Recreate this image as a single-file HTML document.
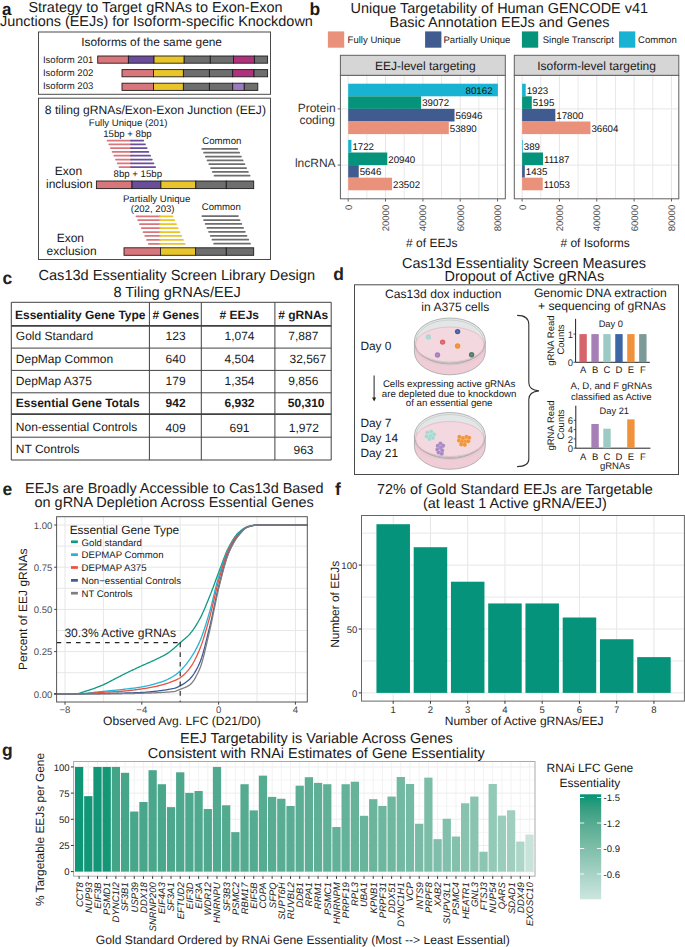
<!DOCTYPE html>
<html><head><meta charset="utf-8"><style>
html,body{margin:0;padding:0;background:#fff;}
svg{display:block;font-family:"Liberation Sans",sans-serif;text-rendering:geometricPrecision;}
</style></head><body>
<svg width="685" height="947" viewBox="0 0 685 947">
<rect width="685" height="947" fill="#fff"/>
<text x="2.00" y="14.60" style="font-size:17.0px;font-weight:bold;" fill="#1a1a1a" >a</text>
<text x="28.43" y="12.00" style="font-size:14.45px;" fill="#1a1a1a" >Strategy to Target gRNAs to Exon-Exon</text>
<text x="-0.09" y="26.20" style="font-size:14.45px;" fill="#1a1a1a" >Junctions (EEJs) for Isoform-specific Knockdown</text>
<rect x="38.50" y="32.00" width="232.00" height="62.30" fill="none" stroke="#4a4a4a" stroke-width="1" />
<rect x="38.50" y="98.20" width="232.00" height="161.30" fill="none" stroke="#4a4a4a" stroke-width="1" />
<text x="81.20" y="46.30" style="font-size:11.9px;" fill="#1a1a1a" >Isoforms of the same gene</text>
<rect x="97.70" y="56.00" width="30.70" height="7.20" fill="#d9767b" stroke="#1e1e1e" stroke-width="0.9" />
<rect x="128.40" y="56.00" width="25.60" height="7.20" fill="#6b4e9b" stroke="#1e1e1e" stroke-width="0.9" />
<rect x="154.00" y="56.00" width="30.20" height="7.20" fill="#e9c42a" stroke="#1e1e1e" stroke-width="0.9" />
<rect x="184.20" y="56.00" width="26.10" height="7.20" fill="#6e6e6e" stroke="#1e1e1e" stroke-width="0.9" />
<rect x="210.30" y="56.00" width="23.20" height="7.20" fill="#6e6e6e" stroke="#1e1e1e" stroke-width="0.9" />
<rect x="233.50" y="56.00" width="20.90" height="7.20" fill="#b0327c" stroke="#1e1e1e" stroke-width="0.9" />
<rect x="254.40" y="56.00" width="13.20" height="7.20" fill="#6e6e6e" stroke="#1e1e1e" stroke-width="0.9" />
<rect x="122.00" y="69.60" width="31.50" height="7.20" fill="#d9767b" stroke="#1e1e1e" stroke-width="0.9" />
<rect x="153.50" y="69.60" width="29.90" height="7.20" fill="#e9c42a" stroke="#1e1e1e" stroke-width="0.9" />
<rect x="183.40" y="69.60" width="26.00" height="7.20" fill="#6e6e6e" stroke="#1e1e1e" stroke-width="0.9" />
<rect x="209.40" y="69.60" width="23.30" height="7.20" fill="#6e6e6e" stroke="#1e1e1e" stroke-width="0.9" />
<rect x="232.70" y="69.60" width="21.30" height="7.20" fill="#b0327c" stroke="#1e1e1e" stroke-width="0.9" />
<rect x="254.00" y="69.60" width="13.60" height="7.20" fill="#6e6e6e" stroke="#1e1e1e" stroke-width="0.9" />
<rect x="122.00" y="83.20" width="31.50" height="7.20" fill="#d9767b" stroke="#1e1e1e" stroke-width="0.9" />
<rect x="153.50" y="83.20" width="29.90" height="7.20" fill="#e9c42a" stroke="#1e1e1e" stroke-width="0.9" />
<rect x="183.40" y="83.20" width="26.00" height="7.20" fill="#6e6e6e" stroke="#1e1e1e" stroke-width="0.9" />
<rect x="209.40" y="83.20" width="23.30" height="7.20" fill="#6e6e6e" stroke="#1e1e1e" stroke-width="0.9" />
<rect x="232.70" y="83.20" width="11.60" height="7.20" fill="#9b7bbd" stroke="#1e1e1e" stroke-width="0.9" />
<rect x="244.30" y="83.20" width="13.50" height="7.20" fill="#6e6e6e" stroke="#1e1e1e" stroke-width="0.9" />
<text x="42.90" y="62.60" style="font-size:9.55px;" fill="#1a1a1a" >Isoform 201</text>
<text x="42.90" y="76.00" style="font-size:9.55px;" fill="#1a1a1a" >Isoform 202</text>
<text x="42.90" y="89.30" style="font-size:9.55px;" fill="#1a1a1a" >Isoform 203</text>
<text x="44.80" y="113.50" style="font-size:12.1px;" fill="#1a1a1a" >8 tiling gRNAs/Exon-Exon Junction (EEJ)</text>
<text x="88.80" y="126.40" style="font-size:9.65px;" fill="#1a1a1a" >Fully Unique (201)</text>
<text x="103.20" y="137.10" style="font-size:9.65px;" fill="#1a1a1a" >15bp + 8bp</text>
<line x1="107.50" y1="140.50" x2="131.10" y2="140.50" stroke="#d9767b" stroke-width="1.75" stroke-linecap="round"/>
<line x1="131.10" y1="140.50" x2="143.30" y2="140.50" stroke="#6b4e9b" stroke-width="1.75" stroke-linecap="round"/>
<line x1="109.20" y1="144.30" x2="131.10" y2="144.30" stroke="#d9767b" stroke-width="1.75" stroke-linecap="round"/>
<line x1="131.10" y1="144.30" x2="145.00" y2="144.30" stroke="#6b4e9b" stroke-width="1.75" stroke-linecap="round"/>
<line x1="110.90" y1="148.10" x2="131.10" y2="148.10" stroke="#d9767b" stroke-width="1.75" stroke-linecap="round"/>
<line x1="131.10" y1="148.10" x2="146.70" y2="148.10" stroke="#6b4e9b" stroke-width="1.75" stroke-linecap="round"/>
<line x1="112.60" y1="151.90" x2="131.10" y2="151.90" stroke="#d9767b" stroke-width="1.75" stroke-linecap="round"/>
<line x1="131.10" y1="151.90" x2="148.40" y2="151.90" stroke="#6b4e9b" stroke-width="1.75" stroke-linecap="round"/>
<line x1="114.30" y1="155.70" x2="131.10" y2="155.70" stroke="#d9767b" stroke-width="1.75" stroke-linecap="round"/>
<line x1="131.10" y1="155.70" x2="150.10" y2="155.70" stroke="#6b4e9b" stroke-width="1.75" stroke-linecap="round"/>
<line x1="116.00" y1="159.50" x2="131.10" y2="159.50" stroke="#d9767b" stroke-width="1.75" stroke-linecap="round"/>
<line x1="131.10" y1="159.50" x2="151.80" y2="159.50" stroke="#6b4e9b" stroke-width="1.75" stroke-linecap="round"/>
<line x1="117.70" y1="163.30" x2="131.10" y2="163.30" stroke="#d9767b" stroke-width="1.75" stroke-linecap="round"/>
<line x1="131.10" y1="163.30" x2="153.50" y2="163.30" stroke="#6b4e9b" stroke-width="1.75" stroke-linecap="round"/>
<line x1="119.40" y1="167.10" x2="131.10" y2="167.10" stroke="#d9767b" stroke-width="1.75" stroke-linecap="round"/>
<line x1="131.10" y1="167.10" x2="155.20" y2="167.10" stroke="#6b4e9b" stroke-width="1.75" stroke-linecap="round"/>
<text x="113.60" y="177.00" style="font-size:9.65px;" fill="#1a1a1a" >8bp + 15bp</text>
<text x="202.30" y="143.80" style="font-size:9.65px;" fill="#1a1a1a" >Common</text>
<line x1="202.30" y1="148.90" x2="237.40" y2="148.90" stroke="#6e6e6e" stroke-width="1.75" stroke-linecap="round"/>
<line x1="204.05" y1="152.73" x2="239.15" y2="152.73" stroke="#6e6e6e" stroke-width="1.75" stroke-linecap="round"/>
<line x1="205.80" y1="156.56" x2="240.90" y2="156.56" stroke="#6e6e6e" stroke-width="1.75" stroke-linecap="round"/>
<line x1="207.55" y1="160.39" x2="242.65" y2="160.39" stroke="#6e6e6e" stroke-width="1.75" stroke-linecap="round"/>
<line x1="209.30" y1="164.22" x2="244.40" y2="164.22" stroke="#6e6e6e" stroke-width="1.75" stroke-linecap="round"/>
<line x1="211.05" y1="168.05" x2="246.15" y2="168.05" stroke="#6e6e6e" stroke-width="1.75" stroke-linecap="round"/>
<line x1="212.80" y1="171.88" x2="247.90" y2="171.88" stroke="#6e6e6e" stroke-width="1.75" stroke-linecap="round"/>
<line x1="214.55" y1="175.71" x2="249.65" y2="175.71" stroke="#6e6e6e" stroke-width="1.75" stroke-linecap="round"/>
<text x="54.80" y="175.40" style="font-size:12px;" fill="#1a1a1a" >Exon</text>
<text x="46.00" y="188.30" style="font-size:12px;" fill="#1a1a1a" >inclusion</text>
<rect x="96.40" y="181.00" width="35.60" height="7.60" fill="#d9767b" stroke="#1e1e1e" stroke-width="0.9" />
<rect x="132.00" y="181.00" width="28.90" height="7.60" fill="#6b4e9b" stroke="#1e1e1e" stroke-width="0.9" />
<rect x="160.90" y="181.00" width="34.90" height="7.60" fill="#e9c42a" stroke="#1e1e1e" stroke-width="0.9" />
<rect x="195.80" y="181.00" width="30.50" height="7.60" fill="#6e6e6e" stroke="#1e1e1e" stroke-width="0.9" />
<rect x="226.30" y="181.00" width="27.40" height="7.60" fill="#6e6e6e" stroke="#1e1e1e" stroke-width="0.9" />
<text x="122.90" y="201.50" style="font-size:9.65px;" fill="#1a1a1a" >Partially Unique</text>
<text x="130.70" y="212.00" style="font-size:9.65px;" fill="#1a1a1a" >(202, 203)</text>
<line x1="136.40" y1="216.30" x2="160.10" y2="216.30" stroke="#d9767b" stroke-width="1.75" stroke-linecap="round"/>
<line x1="160.10" y1="216.30" x2="172.50" y2="216.30" stroke="#e9c42a" stroke-width="1.75" stroke-linecap="round"/>
<line x1="138.17" y1="220.23" x2="160.10" y2="220.23" stroke="#d9767b" stroke-width="1.75" stroke-linecap="round"/>
<line x1="160.10" y1="220.23" x2="174.24" y2="220.23" stroke="#e9c42a" stroke-width="1.75" stroke-linecap="round"/>
<line x1="139.94" y1="224.16" x2="160.10" y2="224.16" stroke="#d9767b" stroke-width="1.75" stroke-linecap="round"/>
<line x1="160.10" y1="224.16" x2="175.98" y2="224.16" stroke="#e9c42a" stroke-width="1.75" stroke-linecap="round"/>
<line x1="141.71" y1="228.09" x2="160.10" y2="228.09" stroke="#d9767b" stroke-width="1.75" stroke-linecap="round"/>
<line x1="160.10" y1="228.09" x2="177.72" y2="228.09" stroke="#e9c42a" stroke-width="1.75" stroke-linecap="round"/>
<line x1="143.48" y1="232.02" x2="160.10" y2="232.02" stroke="#d9767b" stroke-width="1.75" stroke-linecap="round"/>
<line x1="160.10" y1="232.02" x2="179.46" y2="232.02" stroke="#e9c42a" stroke-width="1.75" stroke-linecap="round"/>
<line x1="145.25" y1="235.95" x2="160.10" y2="235.95" stroke="#d9767b" stroke-width="1.75" stroke-linecap="round"/>
<line x1="160.10" y1="235.95" x2="181.20" y2="235.95" stroke="#e9c42a" stroke-width="1.75" stroke-linecap="round"/>
<line x1="147.02" y1="239.88" x2="160.10" y2="239.88" stroke="#d9767b" stroke-width="1.75" stroke-linecap="round"/>
<line x1="160.10" y1="239.88" x2="182.94" y2="239.88" stroke="#e9c42a" stroke-width="1.75" stroke-linecap="round"/>
<line x1="148.79" y1="243.81" x2="160.10" y2="243.81" stroke="#d9767b" stroke-width="1.75" stroke-linecap="round"/>
<line x1="160.10" y1="243.81" x2="184.68" y2="243.81" stroke="#e9c42a" stroke-width="1.75" stroke-linecap="round"/>
<text x="201.70" y="210.00" style="font-size:9.65px;" fill="#1a1a1a" >Common</text>
<line x1="202.30" y1="216.10" x2="237.90" y2="216.10" stroke="#6e6e6e" stroke-width="1.75" stroke-linecap="round"/>
<line x1="203.99" y1="220.04" x2="239.63" y2="220.04" stroke="#6e6e6e" stroke-width="1.75" stroke-linecap="round"/>
<line x1="205.68" y1="223.98" x2="241.36" y2="223.98" stroke="#6e6e6e" stroke-width="1.75" stroke-linecap="round"/>
<line x1="207.37" y1="227.92" x2="243.09" y2="227.92" stroke="#6e6e6e" stroke-width="1.75" stroke-linecap="round"/>
<line x1="209.06" y1="231.86" x2="244.82" y2="231.86" stroke="#6e6e6e" stroke-width="1.75" stroke-linecap="round"/>
<line x1="210.75" y1="235.80" x2="246.55" y2="235.80" stroke="#6e6e6e" stroke-width="1.75" stroke-linecap="round"/>
<line x1="212.44" y1="239.74" x2="248.28" y2="239.74" stroke="#6e6e6e" stroke-width="1.75" stroke-linecap="round"/>
<line x1="214.13" y1="243.68" x2="250.01" y2="243.68" stroke="#6e6e6e" stroke-width="1.75" stroke-linecap="round"/>
<text x="56.70" y="241.80" style="font-size:12px;" fill="#1a1a1a" >Exon</text>
<text x="46.60" y="255.20" style="font-size:12px;" fill="#1a1a1a" >exclusion</text>
<rect x="124.00" y="247.80" width="36.50" height="7.50" fill="#d9767b" stroke="#1e1e1e" stroke-width="0.9" />
<rect x="160.50" y="247.80" width="35.10" height="7.50" fill="#e9c42a" stroke="#1e1e1e" stroke-width="0.9" />
<rect x="195.60" y="247.80" width="30.70" height="7.50" fill="#6e6e6e" stroke="#1e1e1e" stroke-width="0.9" />
<rect x="226.30" y="247.80" width="27.40" height="7.50" fill="#6e6e6e" stroke="#1e1e1e" stroke-width="0.9" />
<text x="309.60" y="14.60" style="font-size:17.5px;font-weight:bold;" fill="#1a1a1a" >b</text>
<text x="350.55" y="13.00" style="font-size:14.45px;" fill="#1a1a1a" >Unique Targetability of Human GENCODE v41</text>
<text x="389.55" y="27.40" style="font-size:14.45px;" fill="#1a1a1a" >Basic Annotation EEJs and Genes</text>
<rect x="327.90" y="31.40" width="16.30" height="16.30" fill="#ea917b" />
<text x="347.60" y="43.20" style="font-size:9.55px;" fill="#1a1a1a" >Fully Unique</text>
<rect x="425.10" y="31.40" width="16.30" height="16.30" fill="#3f5b8f" />
<text x="443.50" y="43.20" style="font-size:9.55px;" fill="#1a1a1a" >Partially Unique</text>
<rect x="521.90" y="31.40" width="16.30" height="16.30" fill="#05937b" />
<text x="542.70" y="43.20" style="font-size:9.55px;" fill="#1a1a1a" >Single Transcript</text>
<rect x="619.00" y="31.40" width="16.30" height="16.30" fill="#18b2d2" />
<text x="638.00" y="43.20" style="font-size:9.55px;" fill="#1a1a1a" >Common</text>
<line x1="366.87" y1="75.30" x2="366.87" y2="198.80" stroke="#e8e8e8" stroke-width="1.0" />
<line x1="404.21" y1="75.30" x2="404.21" y2="198.80" stroke="#e8e8e8" stroke-width="1.0" />
<line x1="441.55" y1="75.30" x2="441.55" y2="198.80" stroke="#e8e8e8" stroke-width="1.0" />
<line x1="478.89" y1="75.30" x2="478.89" y2="198.80" stroke="#e8e8e8" stroke-width="1.0" />
<line x1="348.20" y1="75.30" x2="348.20" y2="198.80" stroke="#e6e6e6" stroke-width="1.0" />
<line x1="385.54" y1="75.30" x2="385.54" y2="198.80" stroke="#e6e6e6" stroke-width="1.0" />
<line x1="422.88" y1="75.30" x2="422.88" y2="198.80" stroke="#e6e6e6" stroke-width="1.0" />
<line x1="460.22" y1="75.30" x2="460.22" y2="198.80" stroke="#e6e6e6" stroke-width="1.0" />
<line x1="497.56" y1="75.30" x2="497.56" y2="198.80" stroke="#e6e6e6" stroke-width="1.0" />
<line x1="340.40" y1="108.90" x2="505.30" y2="108.90" stroke="#e6e6e6" stroke-width="1.0" />
<line x1="340.40" y1="165.10" x2="505.30" y2="165.10" stroke="#e6e6e6" stroke-width="1.0" />
<rect x="348.20" y="83.70" width="149.66" height="12.60" fill="#18b2d2" />
<text x="465.59" y="93.85" style="font-size:9.7px;" fill="#111" >80162</text>
<rect x="348.20" y="96.30" width="72.95" height="12.60" fill="#05937b" />
<text x="422.15" y="106.45" style="font-size:9.7px;" fill="#111" >39072</text>
<rect x="348.20" y="108.90" width="106.32" height="12.60" fill="#3f5b8f" />
<text x="455.52" y="119.05" style="font-size:9.7px;" fill="#111" >56946</text>
<rect x="348.20" y="121.50" width="100.61" height="12.60" fill="#ea917b" />
<text x="449.81" y="131.65" style="font-size:9.7px;" fill="#111" >53890</text>
<rect x="348.20" y="139.90" width="3.21" height="12.60" fill="#18b2d2" />
<text x="352.41" y="150.05" style="font-size:9.7px;" fill="#111" >1722</text>
<rect x="348.20" y="152.50" width="39.09" height="12.60" fill="#05937b" />
<text x="388.29" y="162.65" style="font-size:9.7px;" fill="#111" >20940</text>
<rect x="348.20" y="165.10" width="10.54" height="12.60" fill="#3f5b8f" />
<text x="359.74" y="175.25" style="font-size:9.7px;" fill="#111" >5646</text>
<rect x="348.20" y="177.70" width="43.88" height="12.60" fill="#ea917b" />
<text x="393.08" y="187.85" style="font-size:9.7px;" fill="#111" >23502</text>
<rect x="340.40" y="75.30" width="164.90" height="123.50" fill="none" stroke="#606060" stroke-width="1.0" />
<rect x="340.40" y="55.30" width="164.90" height="20.00" fill="#d6d6d6" stroke="#606060" stroke-width="1.0" />
<text x="374.99" y="70.30" style="font-size:12px;" fill="#1a1a1a" >EEJ-level targeting</text>
<line x1="348.20" y1="198.80" x2="348.20" y2="201.50" stroke="#606060" stroke-width="1.0" />
<text transform="translate(351.60,204.80) rotate(-90)" x="-5.31" y="0" style="font-size:9.55px;" fill="#4d4d4d">0</text>
<line x1="385.54" y1="198.80" x2="385.54" y2="201.50" stroke="#606060" stroke-width="1.0" />
<text transform="translate(388.94,204.80) rotate(-90)" x="-26.56" y="0" style="font-size:9.55px;" fill="#4d4d4d">20000</text>
<line x1="422.88" y1="198.80" x2="422.88" y2="201.50" stroke="#606060" stroke-width="1.0" />
<text transform="translate(426.28,204.80) rotate(-90)" x="-26.56" y="0" style="font-size:9.55px;" fill="#4d4d4d">40000</text>
<line x1="460.22" y1="198.80" x2="460.22" y2="201.50" stroke="#606060" stroke-width="1.0" />
<text transform="translate(463.62,204.80) rotate(-90)" x="-26.56" y="0" style="font-size:9.55px;" fill="#4d4d4d">60000</text>
<line x1="497.56" y1="198.80" x2="497.56" y2="201.50" stroke="#606060" stroke-width="1.0" />
<text transform="translate(500.96,204.80) rotate(-90)" x="-26.56" y="0" style="font-size:9.55px;" fill="#4d4d4d">80000</text>
<text x="406.12" y="247.40" style="font-size:12px;" fill="#1a1a1a" ># of EEJs</text>
<line x1="540.77" y1="75.30" x2="540.77" y2="198.80" stroke="#e8e8e8" stroke-width="1.0" />
<line x1="578.11" y1="75.30" x2="578.11" y2="198.80" stroke="#e8e8e8" stroke-width="1.0" />
<line x1="615.45" y1="75.30" x2="615.45" y2="198.80" stroke="#e8e8e8" stroke-width="1.0" />
<line x1="652.79" y1="75.30" x2="652.79" y2="198.80" stroke="#e8e8e8" stroke-width="1.0" />
<line x1="522.10" y1="75.30" x2="522.10" y2="198.80" stroke="#e6e6e6" stroke-width="1.0" />
<line x1="559.44" y1="75.30" x2="559.44" y2="198.80" stroke="#e6e6e6" stroke-width="1.0" />
<line x1="596.78" y1="75.30" x2="596.78" y2="198.80" stroke="#e6e6e6" stroke-width="1.0" />
<line x1="634.12" y1="75.30" x2="634.12" y2="198.80" stroke="#e6e6e6" stroke-width="1.0" />
<line x1="671.46" y1="75.30" x2="671.46" y2="198.80" stroke="#e6e6e6" stroke-width="1.0" />
<line x1="514.30" y1="108.90" x2="678.80" y2="108.90" stroke="#e6e6e6" stroke-width="1.0" />
<line x1="514.30" y1="165.10" x2="678.80" y2="165.10" stroke="#e6e6e6" stroke-width="1.0" />
<rect x="522.10" y="83.70" width="3.59" height="12.60" fill="#18b2d2" />
<text x="526.69" y="93.85" style="font-size:9.7px;" fill="#111" >1923</text>
<rect x="522.10" y="96.30" width="9.70" height="12.60" fill="#05937b" />
<text x="532.80" y="106.45" style="font-size:9.7px;" fill="#111" >5195</text>
<rect x="522.10" y="108.90" width="33.23" height="12.60" fill="#3f5b8f" />
<text x="556.33" y="119.05" style="font-size:9.7px;" fill="#111" >17800</text>
<rect x="522.10" y="121.50" width="68.34" height="12.60" fill="#ea917b" />
<text x="591.44" y="131.65" style="font-size:9.7px;" fill="#111" >36604</text>
<rect x="522.10" y="139.90" width="0.73" height="12.60" fill="#18b2d2" />
<text x="523.83" y="150.05" style="font-size:9.7px;" fill="#111" >389</text>
<rect x="522.10" y="152.50" width="20.89" height="12.60" fill="#05937b" />
<text x="543.99" y="162.65" style="font-size:9.7px;" fill="#111" >11187</text>
<rect x="522.10" y="165.10" width="2.68" height="12.60" fill="#3f5b8f" />
<text x="525.78" y="175.25" style="font-size:9.7px;" fill="#111" >1435</text>
<rect x="522.10" y="177.70" width="20.64" height="12.60" fill="#ea917b" />
<text x="543.74" y="187.85" style="font-size:9.7px;" fill="#111" >11053</text>
<rect x="514.30" y="75.30" width="164.50" height="123.50" fill="none" stroke="#606060" stroke-width="1.0" />
<rect x="514.30" y="55.30" width="164.50" height="20.00" fill="#d6d6d6" stroke="#606060" stroke-width="1.0" />
<text x="537.19" y="70.30" style="font-size:12px;" fill="#1a1a1a" >Isoform-level targeting</text>
<line x1="522.10" y1="198.80" x2="522.10" y2="201.50" stroke="#606060" stroke-width="1.0" />
<text transform="translate(525.50,204.80) rotate(-90)" x="-5.31" y="0" style="font-size:9.55px;" fill="#4d4d4d">0</text>
<line x1="559.44" y1="198.80" x2="559.44" y2="201.50" stroke="#606060" stroke-width="1.0" />
<text transform="translate(562.84,204.80) rotate(-90)" x="-26.56" y="0" style="font-size:9.55px;" fill="#4d4d4d">20000</text>
<line x1="596.78" y1="198.80" x2="596.78" y2="201.50" stroke="#606060" stroke-width="1.0" />
<text transform="translate(600.18,204.80) rotate(-90)" x="-26.56" y="0" style="font-size:9.55px;" fill="#4d4d4d">40000</text>
<line x1="634.12" y1="198.80" x2="634.12" y2="201.50" stroke="#606060" stroke-width="1.0" />
<text transform="translate(637.52,204.80) rotate(-90)" x="-26.56" y="0" style="font-size:9.55px;" fill="#4d4d4d">60000</text>
<line x1="671.46" y1="198.80" x2="671.46" y2="201.50" stroke="#606060" stroke-width="1.0" />
<text transform="translate(674.86,204.80) rotate(-90)" x="-26.56" y="0" style="font-size:9.55px;" fill="#4d4d4d">80000</text>
<text x="560.42" y="247.40" style="font-size:12px;" fill="#1a1a1a" ># of Isoforms</text>
<line x1="337.70" y1="108.90" x2="340.40" y2="108.90" stroke="#606060" stroke-width="1.0" />
<line x1="337.70" y1="165.10" x2="340.40" y2="165.10" stroke="#606060" stroke-width="1.0" />
<text x="297.68" y="111.50" style="font-size:12px;" fill="#333" >Protein</text>
<text x="299.44" y="123.80" style="font-size:12px;" fill="#333" >coding</text>
<text x="294.92" y="167.00" style="font-size:12px;" fill="#333" >lncRNA</text>
<text x="2.60" y="283.50" style="font-size:17.5px;font-weight:bold;" fill="#222" >c</text>
<text x="38.44" y="280.40" style="font-size:14.6px;" fill="#1a1a1a" >Cas13d Essentiality Screen Library Design</text>
<text x="113.40" y="296.90" style="font-size:14.6px;" fill="#1a1a1a" >8 Tiling gRNAs/EEJ</text>
<line x1="11.30" y1="302.30" x2="11.30" y2="460.00" stroke="#404040" stroke-width="1.0" />
<line x1="149.40" y1="302.30" x2="149.40" y2="460.00" stroke="#404040" stroke-width="1.0" />
<line x1="201.30" y1="302.30" x2="201.30" y2="460.00" stroke="#404040" stroke-width="1.0" />
<line x1="274.90" y1="302.30" x2="274.90" y2="460.00" stroke="#404040" stroke-width="1.0" />
<line x1="331.20" y1="302.30" x2="331.20" y2="460.00" stroke="#404040" stroke-width="1.0" />
<line x1="11.30" y1="302.30" x2="331.20" y2="302.30" stroke="#404040" stroke-width="1.0" />
<line x1="11.30" y1="325.80" x2="331.20" y2="325.80" stroke="#404040" stroke-width="1.7" />
<line x1="11.30" y1="348.10" x2="331.20" y2="348.10" stroke="#404040" stroke-width="1.0" />
<line x1="11.30" y1="370.40" x2="331.20" y2="370.40" stroke="#404040" stroke-width="1.0" />
<line x1="11.30" y1="392.80" x2="331.20" y2="392.80" stroke="#404040" stroke-width="1.0" />
<line x1="11.30" y1="414.10" x2="331.20" y2="414.10" stroke="#404040" stroke-width="1.7" />
<line x1="11.30" y1="437.20" x2="331.20" y2="437.20" stroke="#404040" stroke-width="1.0" />
<line x1="11.30" y1="460.00" x2="331.20" y2="460.00" stroke="#404040" stroke-width="1.0" />
<text x="15.00" y="318.90" style="font-size:12px;font-weight:bold;" fill="#1a1a1a" >Essentiality Gene Type</text>
<text x="152.45" y="318.90" style="font-size:12px;font-weight:bold;" fill="#1a1a1a" ># Genes</text>
<text x="219.62" y="318.90" style="font-size:12px;font-weight:bold;" fill="#1a1a1a" ># EEJs</text>
<text x="278.29" y="318.90" style="font-size:12px;font-weight:bold;" fill="#1a1a1a" ># gRNAs</text>
<text x="15.80" y="340.30" style="font-size:12px;" fill="#1a1a1a" >Gold Standard</text>
<text x="165.59" y="340.30" style="font-size:12px;" fill="#1a1a1a" >123</text>
<text x="224.49" y="340.30" style="font-size:12px;" fill="#1a1a1a" >1,074</text>
<text x="288.30" y="340.30" style="font-size:12px;" fill="#1a1a1a" >7,887</text>
<text x="15.80" y="362.60" style="font-size:12px;" fill="#1a1a1a" >DepMap Common</text>
<text x="165.59" y="362.60" style="font-size:12px;" fill="#1a1a1a" >640</text>
<text x="224.49" y="362.60" style="font-size:12px;" fill="#1a1a1a" >4,504</text>
<text x="289.50" y="362.60" style="font-size:12px;" fill="#1a1a1a" >32,567</text>
<text x="15.80" y="385.00" style="font-size:12px;" fill="#1a1a1a" >DepMap A375</text>
<text x="165.59" y="385.00" style="font-size:12px;" fill="#1a1a1a" >179</text>
<text x="224.49" y="385.00" style="font-size:12px;" fill="#1a1a1a" >1,354</text>
<text x="288.30" y="385.00" style="font-size:12px;" fill="#1a1a1a" >9,856</text>
<text x="15.80" y="407.20" style="font-size:12px;font-weight:bold;" fill="#1a1a1a" >Essential Gene Totals</text>
<text x="165.59" y="407.20" style="font-size:12px;font-weight:bold;" fill="#1a1a1a" >942</text>
<text x="224.49" y="407.20" style="font-size:12px;font-weight:bold;" fill="#1a1a1a" >6,932</text>
<text x="287.80" y="407.20" style="font-size:12px;font-weight:bold;" fill="#1a1a1a" >50,310</text>
<text x="15.80" y="430.70" style="font-size:12px;" fill="#1a1a1a" >Non-essential Controls</text>
<text x="165.59" y="431.70" style="font-size:12px;" fill="#1a1a1a" >409</text>
<text x="229.49" y="431.70" style="font-size:12px;" fill="#1a1a1a" >691</text>
<text x="288.80" y="431.70" style="font-size:12px;" fill="#1a1a1a" >1,972</text>
<text x="15.80" y="453.10" style="font-size:12px;" fill="#1a1a1a" >NT Controls</text>
<text x="293.50" y="454.10" style="font-size:12px;" fill="#1a1a1a" >963</text>
<text x="333.30" y="280.40" style="font-size:17.5px;font-weight:bold;" fill="#222" >d</text>
<text x="402.02" y="267.60" style="font-size:14.45px;" fill="#1a1a1a" >Cas13d Essentiality Screen Measures</text>
<text x="444.48" y="281.40" style="font-size:14.45px;" fill="#1a1a1a" >Dropout of Active gRNAs</text>
<rect x="354.50" y="284.80" width="324.00" height="189.70" fill="none" stroke="#4a4a4a" stroke-width="1" />
<text x="385.11" y="297.60" style="font-size:12.1px;" fill="#1a1a1a" >Cas13d dox induction</text>
<text x="421.33" y="310.90" style="font-size:12.1px;" fill="#1a1a1a" >in A375 cells</text>
<text x="533.88" y="296.80" style="font-size:12.15px;" fill="#1a1a1a" >Genomic DNA extraction</text>
<text x="538.01" y="310.40" style="font-size:12.15px;" fill="#1a1a1a" >+ sequencing of gRNAs</text>
<text x="360.40" y="349.90" style="font-size:11.9px;" fill="#1a1a1a" >Day 0</text>
<text x="360.40" y="427.00" style="font-size:11.9px;" fill="#1a1a1a" >Day 7</text>
<text x="360.40" y="442.20" style="font-size:11.9px;" fill="#1a1a1a" >Day 14</text>
<text x="360.40" y="457.40" style="font-size:11.9px;" fill="#1a1a1a" >Day 21</text>
<text x="382.89" y="386.50" style="font-size:9.7px;" fill="#1a1a1a" >Cells expressing active gRNAs</text>
<text x="381.79" y="397.00" style="font-size:9.7px;" fill="#1a1a1a" >are depleted due to knockdown</text>
<text x="405.79" y="406.40" style="font-size:9.7px;" fill="#1a1a1a" >of an essential gene</text>
<line x1="374.10" y1="375.50" x2="374.10" y2="399.50" stroke="#222" stroke-width="1.0" />
<path d="M372.1,397.5 L374.1,401.5 L376.1,397.5 Z" fill="#222"/>
<path d="M414.45000000000005,341 L414.45000000000005,352 A35.4,22.8 0 0 0 485.25,352 L485.25,341 Z" fill="#f0cdd6" stroke="#9a9a9a" stroke-width="0.7"/>
<ellipse cx="449.85" cy="341" rx="35.4" ry="23" fill="#e2e6e6" stroke="#9a9a9a" stroke-width="0.7"/>
<ellipse cx="449.85" cy="341.6" rx="33.8" ry="21.6" fill="none" stroke="#b8b8b8" stroke-width="0.5"/>
<ellipse cx="449.85" cy="344.5" rx="34.199999999999996" ry="17.5" fill="#f4d8df" stroke="#e6a9b8" stroke-width="0.6"/>
<path d="M415.25000000000006,346 A34.6,17 0 0 0 484.45,346" fill="none" stroke="#a8a8a8" stroke-width="0.6"/>
<path d="M415.25000000000006,348 A34.6,17 0 0 0 484.45,348" fill="none" stroke="#c8c8c8" stroke-width="0.5"/>
<path d="M414.45000000000005,435.5 L414.45000000000005,446.5 A35.4,22.8 0 0 0 485.25,446.5 L485.25,435.5 Z" fill="#f0cdd6" stroke="#9a9a9a" stroke-width="0.7"/>
<ellipse cx="449.85" cy="435.5" rx="35.4" ry="23" fill="#e2e6e6" stroke="#9a9a9a" stroke-width="0.7"/>
<ellipse cx="449.85" cy="436.1" rx="33.8" ry="21.6" fill="none" stroke="#b8b8b8" stroke-width="0.5"/>
<ellipse cx="449.85" cy="439.0" rx="34.199999999999996" ry="17.5" fill="#f4d8df" stroke="#e6a9b8" stroke-width="0.6"/>
<path d="M415.25000000000006,440.5 A34.6,17 0 0 0 484.45,440.5" fill="none" stroke="#a8a8a8" stroke-width="0.6"/>
<path d="M415.25000000000006,442.5 A34.6,17 0 0 0 484.45,442.5" fill="none" stroke="#c8c8c8" stroke-width="0.5"/>
<defs><radialGradient id="dg0" cx="0.5" cy="0.5" r="0.5"><stop offset="0" stop-color="#a9d8d1" stop-opacity="0.75"/><stop offset="0.6" stop-color="#a9d8d1"/><stop offset="1" stop-color="#a9d8d1"/></radialGradient></defs>
<circle cx="428.4" cy="336.9" r="2.7" fill="url(#dg0)"/>
<defs><radialGradient id="dg1" cx="0.5" cy="0.5" r="0.5"><stop offset="0" stop-color="#3a5ea8" stop-opacity="0.75"/><stop offset="0.6" stop-color="#3a5ea8"/><stop offset="1" stop-color="#3a5ea8"/></radialGradient></defs>
<circle cx="457.6" cy="331.6" r="2.7" fill="url(#dg1)"/>
<defs><radialGradient id="dg2" cx="0.5" cy="0.5" r="0.5"><stop offset="0" stop-color="#da626b" stop-opacity="0.75"/><stop offset="0.6" stop-color="#da626b"/><stop offset="1" stop-color="#da626b"/></radialGradient></defs>
<circle cx="442.6" cy="342.1" r="2.7" fill="url(#dg2)"/>
<defs><radialGradient id="dg3" cx="0.5" cy="0.5" r="0.5"><stop offset="0" stop-color="#f0902e" stop-opacity="0.75"/><stop offset="0.6" stop-color="#f0902e"/><stop offset="1" stop-color="#f0902e"/></radialGradient></defs>
<circle cx="457.6" cy="346.0" r="2.7" fill="url(#dg3)"/>
<defs><radialGradient id="dg4" cx="0.5" cy="0.5" r="0.5"><stop offset="0" stop-color="#a47fc0" stop-opacity="0.75"/><stop offset="0.6" stop-color="#a47fc0"/><stop offset="1" stop-color="#a47fc0"/></radialGradient></defs>
<circle cx="437.5" cy="355.0" r="2.7" fill="url(#dg4)"/>
<defs><radialGradient id="dg5" cx="0.5" cy="0.5" r="0.5"><stop offset="0" stop-color="#4d7a6f" stop-opacity="0.75"/><stop offset="0.6" stop-color="#4d7a6f"/><stop offset="1" stop-color="#4d7a6f"/></radialGradient></defs>
<circle cx="471.6" cy="354.7" r="2.7" fill="url(#dg5)"/>
<circle cx="427.28" cy="432.60" r="2.15" fill="#a6d8d0" stroke="#ffffff" stroke-opacity="0.3" stroke-width="0.4"/>
<circle cx="431.16" cy="431.72" r="2.15" fill="#a6d8d0" stroke="#ffffff" stroke-opacity="0.3" stroke-width="0.4"/>
<circle cx="434.06" cy="434.36" r="2.15" fill="#a6d8d0" stroke="#ffffff" stroke-opacity="0.3" stroke-width="0.4"/>
<circle cx="426.58" cy="436.38" r="2.15" fill="#a6d8d0" stroke="#ffffff" stroke-opacity="0.3" stroke-width="0.4"/>
<circle cx="430.54" cy="435.86" r="2.15" fill="#a6d8d0" stroke="#ffffff" stroke-opacity="0.3" stroke-width="0.4"/>
<circle cx="432.92" cy="437.88" r="2.15" fill="#a6d8d0" stroke="#ffffff" stroke-opacity="0.3" stroke-width="0.4"/>
<circle cx="429.40" cy="439.02" r="2.15" fill="#a6d8d0" stroke="#ffffff" stroke-opacity="0.3" stroke-width="0.4"/>
<circle cx="440.44" cy="443.56" r="2.15" fill="#a98ac6" stroke="#ffffff" stroke-opacity="0.3" stroke-width="0.4"/>
<circle cx="443.08" cy="445.76" r="2.15" fill="#a98ac6" stroke="#ffffff" stroke-opacity="0.3" stroke-width="0.4"/>
<circle cx="437.80" cy="445.94" r="2.15" fill="#a98ac6" stroke="#ffffff" stroke-opacity="0.3" stroke-width="0.4"/>
<circle cx="440.88" cy="447.96" r="2.15" fill="#a98ac6" stroke="#ffffff" stroke-opacity="0.3" stroke-width="0.4"/>
<circle cx="437.36" cy="449.72" r="2.15" fill="#a98ac6" stroke="#ffffff" stroke-opacity="0.3" stroke-width="0.4"/>
<circle cx="442.20" cy="450.60" r="2.15" fill="#a98ac6" stroke="#ffffff" stroke-opacity="0.3" stroke-width="0.4"/>
<circle cx="438.68" cy="452.62" r="2.15" fill="#a98ac6" stroke="#ffffff" stroke-opacity="0.3" stroke-width="0.4"/>
<circle cx="441.76" cy="453.68" r="2.15" fill="#a98ac6" stroke="#ffffff" stroke-opacity="0.3" stroke-width="0.4"/>
<circle cx="459.44" cy="436.92" r="2.15" fill="#f0953a" stroke="#ffffff" stroke-opacity="0.3" stroke-width="0.4"/>
<circle cx="462.96" cy="438.24" r="2.15" fill="#f0953a" stroke="#ffffff" stroke-opacity="0.3" stroke-width="0.4"/>
<circle cx="466.48" cy="436.92" r="2.15" fill="#f0953a" stroke="#ffffff" stroke-opacity="0.3" stroke-width="0.4"/>
<circle cx="469.12" cy="437.80" r="2.15" fill="#f0953a" stroke="#ffffff" stroke-opacity="0.3" stroke-width="0.4"/>
<circle cx="459.00" cy="440.70" r="2.15" fill="#f0953a" stroke="#ffffff" stroke-opacity="0.3" stroke-width="0.4"/>
<circle cx="462.08" cy="441.76" r="2.15" fill="#f0953a" stroke="#ffffff" stroke-opacity="0.3" stroke-width="0.4"/>
<circle cx="465.60" cy="441.32" r="2.15" fill="#f0953a" stroke="#ffffff" stroke-opacity="0.3" stroke-width="0.4"/>
<circle cx="468.24" cy="441.32" r="2.15" fill="#f0953a" stroke="#ffffff" stroke-opacity="0.3" stroke-width="0.4"/>
<circle cx="461.20" cy="444.40" r="2.15" fill="#f0953a" stroke="#ffffff" stroke-opacity="0.3" stroke-width="0.4"/>
<circle cx="464.72" cy="444.84" r="2.15" fill="#f0953a" stroke="#ffffff" stroke-opacity="0.3" stroke-width="0.4"/>
<path d="M517.1,315.4 C524.5,315.4 528.8,317.5 528.8,324.5 L528.8,382.5 C528.8,387.5 532.5,390.3 539.0,390.9 C532.5,391.5 528.8,394.5 528.8,399.5 L528.8,459.0 C528.8,464.5 524.5,466.6 517.1,466.6" fill="none" stroke="#333" stroke-width="1.1"/>
<line x1="575.60" y1="318.80" x2="575.60" y2="362.30" stroke="#222" stroke-width="1.0" />
<line x1="575.60" y1="362.30" x2="649.80" y2="362.30" stroke="#222" stroke-width="1.0" />
<rect x="579.40" y="334.10" width="7.40" height="28.20" fill="#d7636b" />
<rect x="591.35" y="334.10" width="7.40" height="28.20" fill="#a57fb5" />
<rect x="603.30" y="334.10" width="7.40" height="28.20" fill="#9ccbc5" />
<rect x="615.25" y="334.10" width="7.40" height="28.20" fill="#3b66a6" />
<rect x="627.20" y="334.10" width="7.40" height="28.20" fill="#f0923c" />
<rect x="639.15" y="334.10" width="7.40" height="28.20" fill="#7c9a98" />
<line x1="573.50" y1="334.10" x2="575.60" y2="334.10" stroke="#222" stroke-width="0.8" />
<line x1="573.50" y1="362.30" x2="575.60" y2="362.30" stroke="#222" stroke-width="0.8" />
<text x="567.86" y="337.90" style="font-size:9.5px;" fill="#333" >1</text>
<text x="567.86" y="366.00" style="font-size:9.5px;" fill="#333" >0</text>
<text x="579.93" y="373.10" style="font-size:9.5px;" fill="#222" >A</text>
<text x="591.88" y="373.10" style="font-size:9.5px;" fill="#222" >B</text>
<text x="603.57" y="373.10" style="font-size:9.5px;" fill="#222" >C</text>
<text x="615.52" y="373.10" style="font-size:9.5px;" fill="#222" >D</text>
<text x="627.73" y="373.10" style="font-size:9.5px;" fill="#222" >E</text>
<text x="639.95" y="373.10" style="font-size:9.5px;" fill="#222" >F</text>
<text x="598.65" y="327.40" style="font-size:9.3px;" fill="#1a1a1a" >Day 0</text>
<text transform="translate(553.70,340.60) rotate(-90)" x="-25.08" y="0" style="font-size:9.5px;" fill="#222">gRNA Read</text>
<text transform="translate(563.90,339.50) rotate(-90)" x="-15.05" y="0" style="font-size:9.5px;" fill="#222">Counts</text>
<text x="570.49" y="388.70" style="font-size:9.6px;" fill="#1a1a1a" >A, D, and F gRNAs</text>
<text x="571.01" y="399.90" style="font-size:9.6px;" fill="#1a1a1a" >classified as Active</text>
<line x1="575.80" y1="405.70" x2="575.80" y2="448.20" stroke="#222" stroke-width="1.0" />
<line x1="575.80" y1="448.20" x2="650.40" y2="448.20" stroke="#222" stroke-width="1.0" />
<rect x="591.35" y="424.02" width="7.40" height="24.18" fill="#a57fb5" />
<rect x="603.30" y="428.67" width="7.40" height="19.53" fill="#9ccbc5" />
<rect x="627.20" y="419.37" width="7.40" height="28.83" fill="#f0923c" />
<line x1="573.70" y1="448.20" x2="575.80" y2="448.20" stroke="#222" stroke-width="0.8" />
<text x="567.86" y="451.90" style="font-size:9.5px;" fill="#333" >0</text>
<line x1="573.70" y1="438.90" x2="575.80" y2="438.90" stroke="#222" stroke-width="0.8" />
<text x="567.86" y="442.60" style="font-size:9.5px;" fill="#333" >2</text>
<line x1="573.70" y1="429.60" x2="575.80" y2="429.60" stroke="#222" stroke-width="0.8" />
<text x="567.86" y="433.30" style="font-size:9.5px;" fill="#333" >4</text>
<line x1="573.70" y1="420.30" x2="575.80" y2="420.30" stroke="#222" stroke-width="0.8" />
<text x="567.86" y="424.00" style="font-size:9.5px;" fill="#333" >6</text>
<text x="579.93" y="459.60" style="font-size:9.5px;" fill="#222" >A</text>
<text x="591.88" y="459.60" style="font-size:9.5px;" fill="#222" >B</text>
<text x="603.57" y="459.60" style="font-size:9.5px;" fill="#222" >C</text>
<text x="615.52" y="459.60" style="font-size:9.5px;" fill="#222" >D</text>
<text x="627.73" y="459.60" style="font-size:9.5px;" fill="#222" >E</text>
<text x="639.95" y="459.60" style="font-size:9.5px;" fill="#222" >F</text>
<text x="599.57" y="414.20" style="font-size:9.3px;" fill="#1a1a1a" >Day 21</text>
<text x="599.95" y="469.40" style="font-size:9.5px;" fill="#222" >gRNAs</text>
<text transform="translate(554.30,425.50) rotate(-90)" x="-25.08" y="0" style="font-size:9.5px;" fill="#222">gRNA Read</text>
<text transform="translate(564.10,424.50) rotate(-90)" x="-15.05" y="0" style="font-size:9.5px;" fill="#222">Counts</text>
<text x="2.50" y="495.30" style="font-size:17.5px;font-weight:bold;" fill="#222" >e</text>
<text x="25.10" y="493.30" style="font-size:14.45px;" fill="#1a1a1a" >EEJs are Broadly Accessible to Cas13d Based</text>
<text x="34.54" y="507.20" style="font-size:14.45px;" fill="#1a1a1a" >on gRNA Depletion Across Essential Genes</text>
<line x1="103.40" y1="516.70" x2="103.40" y2="702.00" stroke="#e8e8e8" stroke-width="1.0" />
<line x1="180.20" y1="516.70" x2="180.20" y2="702.00" stroke="#e8e8e8" stroke-width="1.0" />
<line x1="257.00" y1="516.70" x2="257.00" y2="702.00" stroke="#e8e8e8" stroke-width="1.0" />
<line x1="56.60" y1="672.70" x2="307.30" y2="672.70" stroke="#e8e8e8" stroke-width="1.0" />
<line x1="56.60" y1="630.50" x2="307.30" y2="630.50" stroke="#e8e8e8" stroke-width="1.0" />
<line x1="56.60" y1="588.30" x2="307.30" y2="588.30" stroke="#e8e8e8" stroke-width="1.0" />
<line x1="56.60" y1="546.10" x2="307.30" y2="546.10" stroke="#e8e8e8" stroke-width="1.0" />
<line x1="65.00" y1="516.70" x2="65.00" y2="702.00" stroke="#e6e6e6" stroke-width="1.0" />
<line x1="141.80" y1="516.70" x2="141.80" y2="702.00" stroke="#e6e6e6" stroke-width="1.0" />
<line x1="218.60" y1="516.70" x2="218.60" y2="702.00" stroke="#e6e6e6" stroke-width="1.0" />
<line x1="295.40" y1="516.70" x2="295.40" y2="702.00" stroke="#e6e6e6" stroke-width="1.0" />
<line x1="56.60" y1="693.80" x2="307.30" y2="693.80" stroke="#e6e6e6" stroke-width="1.0" />
<line x1="56.60" y1="651.60" x2="307.30" y2="651.60" stroke="#e6e6e6" stroke-width="1.0" />
<line x1="56.60" y1="609.40" x2="307.30" y2="609.40" stroke="#e6e6e6" stroke-width="1.0" />
<line x1="56.60" y1="567.20" x2="307.30" y2="567.20" stroke="#e6e6e6" stroke-width="1.0" />
<line x1="56.60" y1="525.00" x2="307.30" y2="525.00" stroke="#e6e6e6" stroke-width="1.0" />
<path d="M54.25,693.80 L55.52,693.80 L56.79,693.80 L58.06,693.80 L59.33,693.80 L60.61,693.80 L61.88,693.80 L63.15,693.80 L64.42,693.80 L65.69,693.80 L66.96,693.80 L68.24,693.80 L69.51,693.80 L70.78,693.80 L72.05,693.80 L73.32,693.79 L74.59,693.74 L75.87,693.66 L77.14,693.55 L78.41,693.35 L79.68,693.06 L80.95,692.71 L82.22,692.32 L83.50,691.90 L84.77,691.48 L86.04,691.07 L87.31,690.69 L88.58,690.29 L89.85,689.89 L91.13,689.48 L92.40,689.05 L93.67,688.61 L94.94,688.16 L96.21,687.70 L97.48,687.22 L98.76,686.73 L100.03,686.22 L101.30,685.70 L102.57,685.15 L103.84,684.56 L105.11,683.95 L106.39,683.32 L107.66,682.67 L108.93,682.00 L110.20,681.33 L111.47,680.66 L112.74,679.99 L114.01,679.34 L115.29,678.69 L116.56,678.04 L117.83,677.39 L119.10,676.74 L120.37,676.08 L121.64,675.43 L122.92,674.78 L124.19,674.13 L125.46,673.49 L126.73,672.86 L128.00,672.24 L129.27,671.62 L130.55,671.01 L131.82,670.41 L133.09,669.81 L134.36,669.22 L135.63,668.62 L136.90,668.03 L138.18,667.45 L139.45,666.86 L140.72,666.28 L141.99,665.69 L143.26,665.11 L144.53,664.55 L145.81,663.99 L147.08,663.43 L148.35,662.87 L149.62,662.31 L150.89,661.75 L152.16,661.17 L153.44,660.59 L154.71,659.99 L155.98,659.38 L157.25,658.76 L158.52,658.14 L159.79,657.52 L161.07,656.88 L162.34,656.23 L163.61,655.56 L164.88,654.86 L166.15,654.12 L167.42,653.34 L168.70,652.51 L169.97,651.60 L171.24,650.61 L172.51,649.55 L173.78,648.45 L175.05,647.31 L176.33,646.15 L177.60,644.98 L178.87,643.83 L180.14,642.71 L181.41,641.63 L182.68,640.58 L183.96,639.53 L185.23,638.46 L186.50,637.35 L187.77,636.16 L189.04,634.87 L190.31,633.46 L191.58,631.90 L192.86,630.21 L194.13,628.39 L195.40,626.46 L196.67,624.41 L197.94,622.27 L199.21,620.04 L200.49,617.68 L201.76,615.11 L203.03,612.35 L204.30,609.44 L205.57,606.42 L206.84,603.33 L208.12,600.20 L209.39,597.07 L210.66,593.87 L211.93,590.56 L213.20,587.15 L214.47,583.69 L215.75,580.22 L217.02,576.78 L218.29,573.39 L219.56,570.09 L220.83,566.70 L222.10,563.25 L223.38,559.82 L224.65,556.47 L225.92,553.29 L227.19,550.35 L228.46,547.71 L229.73,545.35 L231.01,543.07 L232.28,540.90 L233.55,538.86 L234.82,536.97 L236.09,535.27 L237.36,533.78 L238.64,532.54 L239.91,531.43 L241.18,530.37 L242.45,529.40 L243.72,528.51 L244.99,527.74 L246.27,527.09 L247.54,526.59 L248.81,526.24 L250.08,525.94 L251.35,525.66 L252.62,525.42 L253.90,525.22 L255.17,525.08 L256.44,525.01 L257.71,525.00 L258.98,525.00 L260.25,525.00 L261.53,525.00 L262.80,525.00 L264.07,525.00 L265.34,525.00 L266.61,525.00 L267.88,525.00 L269.15,525.00 L270.43,525.00 L271.70,525.00 L272.97,525.00 L274.24,525.00 L275.51,525.00 L276.78,525.00 L278.06,525.00 L279.33,525.00 L280.60,525.00 L281.87,525.00 L283.14,525.00 L284.41,525.00 L285.69,525.00 L286.96,525.00 L288.23,525.00 L289.50,525.00 L290.77,525.00 L292.04,525.00 L293.32,525.00 L294.59,525.00 L295.86,525.00 L297.13,525.00 L298.40,525.00 L299.67,525.00 L300.95,525.00 L302.22,525.00 L303.49,525.00 L304.76,525.00 L306.03,525.00 L307.30,525.00" fill="none" stroke="#0f9a80" stroke-width="1.3" stroke-linejoin="round"/>
<path d="M54.25,693.80 L55.52,693.80 L56.79,693.80 L58.06,693.80 L59.33,693.80 L60.61,693.80 L61.88,693.80 L63.15,693.80 L64.42,693.80 L65.69,693.80 L66.96,693.80 L68.24,693.80 L69.51,693.80 L70.78,693.80 L72.05,693.80 L73.32,693.80 L74.59,693.80 L75.87,693.80 L77.14,693.80 L78.41,693.78 L79.68,693.73 L80.95,693.67 L82.22,693.59 L83.50,693.50 L84.77,693.39 L86.04,693.27 L87.31,693.14 L88.58,693.01 L89.85,692.86 L91.13,692.71 L92.40,692.56 L93.67,692.41 L94.94,692.26 L96.21,692.11 L97.48,691.96 L98.76,691.82 L100.03,691.69 L101.30,691.57 L102.57,691.45 L103.84,691.33 L105.11,691.21 L106.39,691.09 L107.66,690.97 L108.93,690.85 L110.20,690.73 L111.47,690.60 L112.74,690.48 L114.01,690.35 L115.29,690.22 L116.56,690.09 L117.83,689.96 L119.10,689.82 L120.37,689.68 L121.64,689.54 L122.92,689.39 L124.19,689.25 L125.46,689.10 L126.73,688.96 L128.00,688.81 L129.27,688.66 L130.55,688.51 L131.82,688.35 L133.09,688.19 L134.36,688.02 L135.63,687.84 L136.90,687.66 L138.18,687.47 L139.45,687.27 L140.72,687.06 L141.99,686.85 L143.26,686.62 L144.53,686.38 L145.81,686.12 L147.08,685.85 L148.35,685.57 L149.62,685.28 L150.89,684.98 L152.16,684.66 L153.44,684.32 L154.71,683.97 L155.98,683.61 L157.25,683.24 L158.52,682.84 L159.79,682.44 L161.07,682.02 L162.34,681.58 L163.61,681.11 L164.88,680.61 L166.15,680.06 L167.42,679.48 L168.70,678.85 L169.97,678.19 L171.24,677.49 L172.51,676.76 L173.78,675.98 L175.05,675.16 L176.33,674.23 L177.60,673.20 L178.87,672.08 L180.14,670.89 L181.41,669.63 L182.68,668.29 L183.96,666.88 L185.23,665.39 L186.50,663.82 L187.77,662.17 L189.04,660.43 L190.31,658.62 L191.58,656.72 L192.86,654.70 L194.13,652.57 L195.40,650.31 L196.67,647.91 L197.94,645.36 L199.21,642.65 L200.49,639.72 L201.76,636.47 L203.03,632.94 L204.30,629.16 L205.57,625.20 L206.84,621.08 L208.12,616.87 L209.39,612.59 L210.66,608.06 L211.93,603.13 L213.20,597.96 L214.47,592.69 L215.75,587.47 L217.02,582.46 L218.29,577.81 L219.56,573.60 L220.83,569.52 L222.10,565.53 L223.38,561.69 L224.65,558.04 L225.92,554.63 L227.19,551.52 L228.46,548.75 L229.73,546.29 L231.01,543.96 L232.28,541.78 L233.55,539.74 L234.82,537.87 L236.09,536.17 L237.36,534.67 L238.64,533.38 L239.91,532.19 L241.18,531.06 L242.45,530.00 L243.72,529.04 L244.99,528.20 L246.27,527.49 L247.54,526.94 L248.81,526.57 L250.08,526.25 L251.35,525.96 L252.62,525.69 L253.90,525.46 L255.17,525.26 L256.44,525.12 L257.71,525.03 L258.98,525.00 L260.25,525.00 L261.53,525.00 L262.80,525.00 L264.07,525.00 L265.34,525.00 L266.61,525.00 L267.88,525.00 L269.15,525.00 L270.43,525.00 L271.70,525.00 L272.97,525.00 L274.24,525.00 L275.51,525.00 L276.78,525.00 L278.06,525.00 L279.33,525.00 L280.60,525.00 L281.87,525.00 L283.14,525.00 L284.41,525.00 L285.69,525.00 L286.96,525.00 L288.23,525.00 L289.50,525.00 L290.77,525.00 L292.04,525.00 L293.32,525.00 L294.59,525.00 L295.86,525.00 L297.13,525.00 L298.40,525.00 L299.67,525.00 L300.95,525.00 L302.22,525.00 L303.49,525.00 L304.76,525.00 L306.03,525.00 L307.30,525.00" fill="none" stroke="#23b5d5" stroke-width="1.3" stroke-linejoin="round"/>
<path d="M54.25,693.80 L55.52,693.80 L56.79,693.80 L58.06,693.80 L59.33,693.80 L60.61,693.80 L61.88,693.80 L63.15,693.80 L64.42,693.80 L65.69,693.80 L66.96,693.80 L68.24,693.80 L69.51,693.80 L70.78,693.80 L72.05,693.80 L73.32,693.80 L74.59,693.80 L75.87,693.80 L77.14,693.80 L78.41,693.80 L79.68,693.80 L80.95,693.80 L82.22,693.78 L83.50,693.74 L84.77,693.69 L86.04,693.62 L87.31,693.54 L88.58,693.45 L89.85,693.35 L91.13,693.24 L92.40,693.13 L93.67,693.02 L94.94,692.91 L96.21,692.80 L97.48,692.70 L98.76,692.60 L100.03,692.51 L101.30,692.43 L102.57,692.35 L103.84,692.28 L105.11,692.21 L106.39,692.14 L107.66,692.08 L108.93,692.01 L110.20,691.94 L111.47,691.88 L112.74,691.81 L114.01,691.74 L115.29,691.67 L116.56,691.59 L117.83,691.51 L119.10,691.43 L120.37,691.33 L121.64,691.24 L122.92,691.13 L124.19,691.02 L125.46,690.91 L126.73,690.78 L128.00,690.65 L129.27,690.52 L130.55,690.38 L131.82,690.23 L133.09,690.08 L134.36,689.92 L135.63,689.76 L136.90,689.59 L138.18,689.42 L139.45,689.24 L140.72,689.06 L141.99,688.88 L143.26,688.69 L144.53,688.49 L145.81,688.28 L147.08,688.07 L148.35,687.85 L149.62,687.61 L150.89,687.37 L152.16,687.13 L153.44,686.87 L154.71,686.60 L155.98,686.33 L157.25,686.04 L158.52,685.75 L159.79,685.44 L161.07,685.13 L162.34,684.81 L163.61,684.46 L164.88,684.10 L166.15,683.71 L167.42,683.29 L168.70,682.86 L169.97,682.40 L171.24,681.92 L172.51,681.43 L173.78,680.91 L175.05,680.37 L176.33,679.80 L177.60,679.17 L178.87,678.47 L180.14,677.68 L181.41,676.77 L182.68,675.76 L183.96,674.64 L185.23,673.41 L186.50,672.08 L187.77,670.64 L189.04,669.11 L190.31,667.46 L191.58,665.60 L192.86,663.53 L194.13,661.26 L195.40,658.80 L196.67,656.17 L197.94,653.39 L199.21,650.47 L200.49,647.35 L201.76,643.88 L203.03,640.09 L204.30,636.04 L205.57,631.78 L206.84,627.38 L208.12,622.88 L209.39,618.33 L210.66,613.55 L211.93,608.40 L213.20,603.00 L214.47,597.52 L215.75,592.07 L217.02,586.81 L218.29,581.87 L219.56,577.32 L220.83,572.85 L222.10,568.42 L223.38,564.13 L224.65,560.04 L225.92,556.24 L227.19,552.80 L228.46,549.80 L229.73,547.21 L231.01,544.78 L232.28,542.52 L233.55,540.44 L234.82,538.52 L236.09,536.79 L237.36,535.24 L238.64,533.88 L239.91,532.62 L241.18,531.40 L242.45,530.26 L243.72,529.21 L244.99,528.29 L246.27,527.53 L247.54,526.95 L248.81,526.57 L250.08,526.25 L251.35,525.95 L252.62,525.68 L253.90,525.45 L255.17,525.26 L256.44,525.12 L257.71,525.03 L258.98,525.00 L260.25,525.00 L261.53,525.00 L262.80,525.00 L264.07,525.00 L265.34,525.00 L266.61,525.00 L267.88,525.00 L269.15,525.00 L270.43,525.00 L271.70,525.00 L272.97,525.00 L274.24,525.00 L275.51,525.00 L276.78,525.00 L278.06,525.00 L279.33,525.00 L280.60,525.00 L281.87,525.00 L283.14,525.00 L284.41,525.00 L285.69,525.00 L286.96,525.00 L288.23,525.00 L289.50,525.00 L290.77,525.00 L292.04,525.00 L293.32,525.00 L294.59,525.00 L295.86,525.00 L297.13,525.00 L298.40,525.00 L299.67,525.00 L300.95,525.00 L302.22,525.00 L303.49,525.00 L304.76,525.00 L306.03,525.00 L307.30,525.00" fill="none" stroke="#e8513f" stroke-width="1.3" stroke-linejoin="round"/>
<path d="M54.25,693.80 L55.52,693.80 L56.79,693.80 L58.06,693.80 L59.33,693.80 L60.61,693.80 L61.88,693.80 L63.15,693.80 L64.42,693.80 L65.69,693.80 L66.96,693.80 L68.24,693.80 L69.51,693.80 L70.78,693.80 L72.05,693.80 L73.32,693.80 L74.59,693.80 L75.87,693.80 L77.14,693.80 L78.41,693.80 L79.68,693.80 L80.95,693.80 L82.22,693.80 L83.50,693.80 L84.77,693.80 L86.04,693.80 L87.31,693.80 L88.58,693.80 L89.85,693.80 L91.13,693.80 L92.40,693.80 L93.67,693.80 L94.94,693.80 L96.21,693.79 L97.48,693.78 L98.76,693.76 L100.03,693.74 L101.30,693.72 L102.57,693.69 L103.84,693.66 L105.11,693.63 L106.39,693.59 L107.66,693.56 L108.93,693.52 L110.20,693.48 L111.47,693.44 L112.74,693.39 L114.01,693.35 L115.29,693.31 L116.56,693.27 L117.83,693.23 L119.10,693.19 L120.37,693.15 L121.64,693.11 L122.92,693.08 L124.19,693.04 L125.46,693.01 L126.73,692.98 L128.00,692.94 L129.27,692.91 L130.55,692.87 L131.82,692.83 L133.09,692.79 L134.36,692.75 L135.63,692.71 L136.90,692.66 L138.18,692.61 L139.45,692.56 L140.72,692.50 L141.99,692.44 L143.26,692.37 L144.53,692.29 L145.81,692.20 L147.08,692.10 L148.35,691.99 L149.62,691.88 L150.89,691.75 L152.16,691.62 L153.44,691.49 L154.71,691.35 L155.98,691.20 L157.25,691.05 L158.52,690.89 L159.79,690.73 L161.07,690.57 L162.34,690.40 L163.61,690.23 L164.88,690.06 L166.15,689.87 L167.42,689.68 L168.70,689.46 L169.97,689.23 L171.24,688.98 L172.51,688.70 L173.78,688.40 L175.05,688.05 L176.33,687.60 L177.60,687.06 L178.87,686.45 L180.14,685.80 L181.41,685.12 L182.68,684.39 L183.96,683.60 L185.23,682.75 L186.50,681.82 L187.77,680.79 L189.04,679.67 L190.31,678.43 L191.58,676.99 L192.86,675.35 L194.13,673.50 L195.40,671.45 L196.67,669.19 L197.94,666.73 L199.21,664.07 L200.49,661.08 L201.76,657.43 L203.03,653.21 L204.30,648.56 L205.57,643.60 L206.84,638.46 L208.12,633.26 L209.39,628.12 L210.66,622.82 L211.93,617.13 L213.20,611.20 L214.47,605.18 L215.75,599.21 L217.02,593.45 L218.29,588.02 L219.56,583.03 L220.83,578.11 L222.10,573.24 L223.38,568.52 L224.65,564.03 L225.92,559.85 L227.19,556.06 L228.46,552.74 L229.73,549.87 L231.01,547.19 L232.28,544.70 L233.55,542.39 L234.82,540.27 L236.09,538.34 L237.36,536.60 L238.64,535.05 L239.91,533.59 L241.18,532.17 L242.45,530.83 L243.72,529.60 L244.99,528.52 L246.27,527.63 L247.54,526.97 L248.81,526.57 L250.08,526.24 L251.35,525.94 L252.62,525.67 L253.90,525.44 L255.17,525.25 L256.44,525.11 L257.71,525.03 L258.98,525.00 L260.25,525.00 L261.53,525.00 L262.80,525.00 L264.07,525.00 L265.34,525.00 L266.61,525.00 L267.88,525.00 L269.15,525.00 L270.43,525.00 L271.70,525.00 L272.97,525.00 L274.24,525.00 L275.51,525.00 L276.78,525.00 L278.06,525.00 L279.33,525.00 L280.60,525.00 L281.87,525.00 L283.14,525.00 L284.41,525.00 L285.69,525.00 L286.96,525.00 L288.23,525.00 L289.50,525.00 L290.77,525.00 L292.04,525.00 L293.32,525.00 L294.59,525.00 L295.86,525.00 L297.13,525.00 L298.40,525.00 L299.67,525.00 L300.95,525.00 L302.22,525.00 L303.49,525.00 L304.76,525.00 L306.03,525.00 L307.30,525.00" fill="none" stroke="#3c5a99" stroke-width="1.3" stroke-linejoin="round"/>
<path d="M54.25,693.80 L55.52,693.80 L56.79,693.80 L58.06,693.80 L59.33,693.80 L60.61,693.80 L61.88,693.80 L63.15,693.80 L64.42,693.80 L65.69,693.80 L66.96,693.80 L68.24,693.80 L69.51,693.80 L70.78,693.80 L72.05,693.80 L73.32,693.80 L74.59,693.80 L75.87,693.80 L77.14,693.80 L78.41,693.80 L79.68,693.80 L80.95,693.80 L82.22,693.80 L83.50,693.80 L84.77,693.80 L86.04,693.80 L87.31,693.80 L88.58,693.80 L89.85,693.80 L91.13,693.80 L92.40,693.80 L93.67,693.80 L94.94,693.80 L96.21,693.80 L97.48,693.80 L98.76,693.80 L100.03,693.80 L101.30,693.80 L102.57,693.80 L103.84,693.80 L105.11,693.80 L106.39,693.80 L107.66,693.80 L108.93,693.80 L110.20,693.80 L111.47,693.80 L112.74,693.80 L114.01,693.80 L115.29,693.80 L116.56,693.79 L117.83,693.78 L119.10,693.77 L120.37,693.75 L121.64,693.74 L122.92,693.72 L124.19,693.70 L125.46,693.67 L126.73,693.65 L128.00,693.63 L129.27,693.60 L130.55,693.57 L131.82,693.54 L133.09,693.51 L134.36,693.48 L135.63,693.45 L136.90,693.42 L138.18,693.39 L139.45,693.35 L140.72,693.32 L141.99,693.29 L143.26,693.25 L144.53,693.22 L145.81,693.18 L147.08,693.14 L148.35,693.09 L149.62,693.05 L150.89,693.00 L152.16,692.94 L153.44,692.89 L154.71,692.83 L155.98,692.77 L157.25,692.71 L158.52,692.65 L159.79,692.58 L161.07,692.51 L162.34,692.44 L163.61,692.37 L164.88,692.30 L166.15,692.22 L167.42,692.14 L168.70,692.05 L169.97,691.95 L171.24,691.83 L172.51,691.69 L173.78,691.53 L175.05,691.32 L176.33,690.95 L177.60,690.45 L178.87,689.90 L180.14,689.36 L181.41,688.87 L182.68,688.39 L183.96,687.90 L185.23,687.38 L186.50,686.81 L187.77,686.15 L189.04,685.38 L190.31,684.45 L191.58,683.22 L192.86,681.66 L194.13,679.80 L195.40,677.67 L196.67,675.31 L197.94,672.74 L199.21,670.00 L200.49,666.93 L201.76,663.11 L203.03,658.66 L204.30,653.72 L205.57,648.43 L206.84,642.95 L208.12,637.43 L209.39,632.00 L210.66,626.42 L211.93,620.44 L213.20,614.21 L214.47,607.89 L215.75,601.64 L217.02,595.62 L218.29,589.98 L219.56,584.81 L220.83,579.74 L222.10,574.75 L223.38,569.91 L224.65,565.32 L225.92,561.05 L227.19,557.17 L228.46,553.78 L229.73,550.82 L231.01,548.07 L232.28,545.51 L233.55,543.14 L234.82,540.97 L236.09,538.97 L237.36,537.17 L238.64,535.55 L239.91,534.02 L241.18,532.51 L242.45,531.08 L243.72,529.77 L244.99,528.61 L246.27,527.67 L247.54,526.98 L248.81,526.57 L250.08,526.24 L251.35,525.94 L252.62,525.67 L253.90,525.44 L255.17,525.25 L256.44,525.11 L257.71,525.03 L258.98,525.00 L260.25,525.00 L261.53,525.00 L262.80,525.00 L264.07,525.00 L265.34,525.00 L266.61,525.00 L267.88,525.00 L269.15,525.00 L270.43,525.00 L271.70,525.00 L272.97,525.00 L274.24,525.00 L275.51,525.00 L276.78,525.00 L278.06,525.00 L279.33,525.00 L280.60,525.00 L281.87,525.00 L283.14,525.00 L284.41,525.00 L285.69,525.00 L286.96,525.00 L288.23,525.00 L289.50,525.00 L290.77,525.00 L292.04,525.00 L293.32,525.00 L294.59,525.00 L295.86,525.00 L297.13,525.00 L298.40,525.00 L299.67,525.00 L300.95,525.00 L302.22,525.00 L303.49,525.00 L304.76,525.00 L306.03,525.00 L307.30,525.00" fill="none" stroke="#7f7f7f" stroke-width="1.3" stroke-linejoin="round"/>
<line x1="56.60" y1="642.60" x2="180.20" y2="642.60" stroke="#222" stroke-width="1.1" stroke-dasharray="4.6,5.1"/>
<line x1="180.20" y1="642.60" x2="180.20" y2="702.00" stroke="#222" stroke-width="1.1" stroke-dasharray="4.6,5.1"/>
<text x="64.40" y="636.50" style="font-size:12.1px;" fill="#1a1a1a" >30.3% Active gRNAs</text>
<text x="69.70" y="533.80" style="font-size:11.9px;" fill="#1a1a1a" >Essential Gene Type</text>
<line x1="71.00" y1="541.80" x2="77.90" y2="541.80" stroke="#0f9a80" stroke-width="2.7" />
<text x="81.60" y="545.50" style="font-size:9.6px;" fill="#1a1a1a" >Gold standard</text>
<line x1="71.00" y1="554.65" x2="77.90" y2="554.65" stroke="#23b5d5" stroke-width="2.7" />
<text x="81.60" y="558.35" style="font-size:9.6px;" fill="#1a1a1a" >DEPMAP Common</text>
<line x1="71.00" y1="567.50" x2="77.90" y2="567.50" stroke="#e8513f" stroke-width="2.7" />
<text x="81.60" y="571.20" style="font-size:9.6px;" fill="#1a1a1a" >DEPMAP A375</text>
<line x1="71.00" y1="580.35" x2="77.90" y2="580.35" stroke="#3c5a99" stroke-width="2.7" />
<text x="81.60" y="584.05" style="font-size:9.6px;" fill="#1a1a1a" >Non−essential Controls</text>
<line x1="71.00" y1="593.20" x2="77.90" y2="593.20" stroke="#7f7f7f" stroke-width="2.7" />
<text x="81.60" y="596.90" style="font-size:9.6px;" fill="#1a1a1a" >NT Controls</text>
<rect x="56.60" y="516.70" width="250.70" height="185.30" fill="none" stroke="#555" stroke-width="1.0" />
<line x1="54.20" y1="693.80" x2="56.60" y2="693.80" stroke="#444" stroke-width="1.0" />
<text x="33.82" y="697.60" style="font-size:9.55px;" fill="#4d4d4d" >0.00</text>
<line x1="54.20" y1="651.60" x2="56.60" y2="651.60" stroke="#444" stroke-width="1.0" />
<text x="33.82" y="655.40" style="font-size:9.55px;" fill="#4d4d4d" >0.25</text>
<line x1="54.20" y1="609.40" x2="56.60" y2="609.40" stroke="#444" stroke-width="1.0" />
<text x="33.82" y="613.20" style="font-size:9.55px;" fill="#4d4d4d" >0.50</text>
<line x1="54.20" y1="567.20" x2="56.60" y2="567.20" stroke="#444" stroke-width="1.0" />
<text x="33.82" y="571.00" style="font-size:9.55px;" fill="#4d4d4d" >0.75</text>
<line x1="54.20" y1="525.00" x2="56.60" y2="525.00" stroke="#444" stroke-width="1.0" />
<text x="33.82" y="528.80" style="font-size:9.55px;" fill="#4d4d4d" >1.00</text>
<line x1="65.00" y1="702.00" x2="65.00" y2="704.70" stroke="#444" stroke-width="1.0" />
<text x="59.56" y="712.70" style="font-size:9.55px;" fill="#4d4d4d" >−8</text>
<line x1="141.80" y1="702.00" x2="141.80" y2="704.70" stroke="#444" stroke-width="1.0" />
<text x="136.36" y="712.70" style="font-size:9.55px;" fill="#4d4d4d" >−4</text>
<line x1="218.60" y1="702.00" x2="218.60" y2="704.70" stroke="#444" stroke-width="1.0" />
<text x="215.95" y="712.70" style="font-size:9.55px;" fill="#4d4d4d" >0</text>
<line x1="295.40" y1="702.00" x2="295.40" y2="704.70" stroke="#444" stroke-width="1.0" />
<text x="292.75" y="712.70" style="font-size:9.55px;" fill="#4d4d4d" >4</text>
<text x="103.09" y="725.30" style="font-size:12.1px;" fill="#1a1a1a" >Observed Avg. LFC (D21/D0)</text>
<text transform="translate(26.80,609.30) rotate(-90)" x="-60.69" y="0" style="font-size:12px;" fill="#1a1a1a">Percent of EEJ gRNAs</text>
<text x="335.00" y="495.30" style="font-size:17.5px;font-weight:bold;" fill="#222" >f</text>
<text x="377.07" y="494.40" style="font-size:14.45px;" fill="#1a1a1a" >72% of Gold Standard EEJs are Targetable</text>
<text x="422.95" y="508.20" style="font-size:14.45px;" fill="#1a1a1a" >(at least 1 Active gRNA/EEJ)</text>
<line x1="361.50" y1="660.95" x2="684.40" y2="660.95" stroke="#e8e8e8" stroke-width="1.0" />
<line x1="361.50" y1="597.05" x2="684.40" y2="597.05" stroke="#e8e8e8" stroke-width="1.0" />
<line x1="361.50" y1="533.15" x2="684.40" y2="533.15" stroke="#e8e8e8" stroke-width="1.0" />
<line x1="361.50" y1="692.90" x2="684.40" y2="692.90" stroke="#e6e6e6" stroke-width="1.0" />
<line x1="361.50" y1="629.00" x2="684.40" y2="629.00" stroke="#e6e6e6" stroke-width="1.0" />
<line x1="361.50" y1="565.10" x2="684.40" y2="565.10" stroke="#e6e6e6" stroke-width="1.0" />
<line x1="393.20" y1="515.50" x2="393.20" y2="701.10" stroke="#e6e6e6" stroke-width="1.0" />
<line x1="430.45" y1="515.50" x2="430.45" y2="701.10" stroke="#e6e6e6" stroke-width="1.0" />
<line x1="467.70" y1="515.50" x2="467.70" y2="701.10" stroke="#e6e6e6" stroke-width="1.0" />
<line x1="504.95" y1="515.50" x2="504.95" y2="701.10" stroke="#e6e6e6" stroke-width="1.0" />
<line x1="542.20" y1="515.50" x2="542.20" y2="701.10" stroke="#e6e6e6" stroke-width="1.0" />
<line x1="579.45" y1="515.50" x2="579.45" y2="701.10" stroke="#e6e6e6" stroke-width="1.0" />
<line x1="616.70" y1="515.50" x2="616.70" y2="701.10" stroke="#e6e6e6" stroke-width="1.0" />
<line x1="653.95" y1="515.50" x2="653.95" y2="701.10" stroke="#e6e6e6" stroke-width="1.0" />
<rect x="376.44" y="524.20" width="33.52" height="168.70" fill="#05947b" />
<rect x="413.69" y="547.21" width="33.52" height="145.69" fill="#05947b" />
<rect x="450.94" y="581.71" width="33.52" height="111.19" fill="#05947b" />
<rect x="488.19" y="603.44" width="33.52" height="89.46" fill="#05947b" />
<rect x="525.44" y="603.44" width="33.52" height="89.46" fill="#05947b" />
<rect x="562.69" y="617.50" width="33.52" height="75.40" fill="#05947b" />
<rect x="599.94" y="639.22" width="33.52" height="53.68" fill="#05947b" />
<rect x="637.19" y="657.12" width="33.52" height="35.78" fill="#05947b" />
<rect x="361.50" y="515.50" width="322.90" height="185.60" fill="none" stroke="#666" stroke-width="1.0" />
<line x1="358.80" y1="692.90" x2="361.50" y2="692.90" stroke="#333" stroke-width="1.0" />
<text x="351.99" y="696.70" style="font-size:9.55px;" fill="#333" >0</text>
<line x1="358.80" y1="629.00" x2="361.50" y2="629.00" stroke="#333" stroke-width="1.0" />
<text x="346.68" y="632.80" style="font-size:9.55px;" fill="#333" >50</text>
<line x1="358.80" y1="565.10" x2="361.50" y2="565.10" stroke="#333" stroke-width="1.0" />
<text x="341.37" y="568.90" style="font-size:9.55px;" fill="#333" >100</text>
<line x1="393.20" y1="701.10" x2="393.20" y2="703.80" stroke="#333" stroke-width="1.0" />
<text x="390.55" y="712.70" style="font-size:9.55px;" fill="#333" >1</text>
<line x1="430.45" y1="701.10" x2="430.45" y2="703.80" stroke="#333" stroke-width="1.0" />
<text x="427.80" y="712.70" style="font-size:9.55px;" fill="#333" >2</text>
<line x1="467.70" y1="701.10" x2="467.70" y2="703.80" stroke="#333" stroke-width="1.0" />
<text x="465.05" y="712.70" style="font-size:9.55px;" fill="#333" >3</text>
<line x1="504.95" y1="701.10" x2="504.95" y2="703.80" stroke="#333" stroke-width="1.0" />
<text x="502.30" y="712.70" style="font-size:9.55px;" fill="#333" >4</text>
<line x1="542.20" y1="701.10" x2="542.20" y2="703.80" stroke="#333" stroke-width="1.0" />
<text x="539.55" y="712.70" style="font-size:9.55px;" fill="#333" >5</text>
<line x1="579.45" y1="701.10" x2="579.45" y2="703.80" stroke="#333" stroke-width="1.0" />
<text x="576.80" y="712.70" style="font-size:9.55px;" fill="#333" >6</text>
<line x1="616.70" y1="701.10" x2="616.70" y2="703.80" stroke="#333" stroke-width="1.0" />
<text x="614.05" y="712.70" style="font-size:9.55px;" fill="#333" >7</text>
<line x1="653.95" y1="701.10" x2="653.95" y2="703.80" stroke="#333" stroke-width="1.0" />
<text x="651.30" y="712.70" style="font-size:9.55px;" fill="#333" >8</text>
<text x="444.71" y="725.10" style="font-size:12.07px;" fill="#1a1a1a" >Number of Active gRNAs/EEJ</text>
<text transform="translate(339.40,604.30) rotate(-90)" x="-43.50" y="0" style="font-size:11.95px;" fill="#1a1a1a">Number of EEJs</text>
<text x="2.10" y="755.90" style="font-size:17.5px;font-weight:bold;" fill="#222" >g</text>
<text x="180.06" y="743.30" style="font-size:14.5px;" fill="#1a1a1a" >EEJ Targetability is Variable Across Genes</text>
<text x="147.87" y="757.70" style="font-size:14.5px;" fill="#1a1a1a" >Consistent with RNAi Estimates of Gene Essentiality</text>
<line x1="79.11" y1="761.50" x2="79.11" y2="876.20" stroke="#f1f1f1" stroke-width="0.9" />
<line x1="88.31" y1="761.50" x2="88.31" y2="876.20" stroke="#f1f1f1" stroke-width="0.9" />
<line x1="97.50" y1="761.50" x2="97.50" y2="876.20" stroke="#f1f1f1" stroke-width="0.9" />
<line x1="106.69" y1="761.50" x2="106.69" y2="876.20" stroke="#f1f1f1" stroke-width="0.9" />
<line x1="115.88" y1="761.50" x2="115.88" y2="876.20" stroke="#f1f1f1" stroke-width="0.9" />
<line x1="125.07" y1="761.50" x2="125.07" y2="876.20" stroke="#f1f1f1" stroke-width="0.9" />
<line x1="134.26" y1="761.50" x2="134.26" y2="876.20" stroke="#f1f1f1" stroke-width="0.9" />
<line x1="143.45" y1="761.50" x2="143.45" y2="876.20" stroke="#f1f1f1" stroke-width="0.9" />
<line x1="152.64" y1="761.50" x2="152.64" y2="876.20" stroke="#f1f1f1" stroke-width="0.9" />
<line x1="161.84" y1="761.50" x2="161.84" y2="876.20" stroke="#f1f1f1" stroke-width="0.9" />
<line x1="171.03" y1="761.50" x2="171.03" y2="876.20" stroke="#f1f1f1" stroke-width="0.9" />
<line x1="180.22" y1="761.50" x2="180.22" y2="876.20" stroke="#f1f1f1" stroke-width="0.9" />
<line x1="189.41" y1="761.50" x2="189.41" y2="876.20" stroke="#f1f1f1" stroke-width="0.9" />
<line x1="198.60" y1="761.50" x2="198.60" y2="876.20" stroke="#f1f1f1" stroke-width="0.9" />
<line x1="207.79" y1="761.50" x2="207.79" y2="876.20" stroke="#f1f1f1" stroke-width="0.9" />
<line x1="216.98" y1="761.50" x2="216.98" y2="876.20" stroke="#f1f1f1" stroke-width="0.9" />
<line x1="226.17" y1="761.50" x2="226.17" y2="876.20" stroke="#f1f1f1" stroke-width="0.9" />
<line x1="235.37" y1="761.50" x2="235.37" y2="876.20" stroke="#f1f1f1" stroke-width="0.9" />
<line x1="244.56" y1="761.50" x2="244.56" y2="876.20" stroke="#f1f1f1" stroke-width="0.9" />
<line x1="253.75" y1="761.50" x2="253.75" y2="876.20" stroke="#f1f1f1" stroke-width="0.9" />
<line x1="262.94" y1="761.50" x2="262.94" y2="876.20" stroke="#f1f1f1" stroke-width="0.9" />
<line x1="272.13" y1="761.50" x2="272.13" y2="876.20" stroke="#f1f1f1" stroke-width="0.9" />
<line x1="281.32" y1="761.50" x2="281.32" y2="876.20" stroke="#f1f1f1" stroke-width="0.9" />
<line x1="290.51" y1="761.50" x2="290.51" y2="876.20" stroke="#f1f1f1" stroke-width="0.9" />
<line x1="299.70" y1="761.50" x2="299.70" y2="876.20" stroke="#f1f1f1" stroke-width="0.9" />
<line x1="308.90" y1="761.50" x2="308.90" y2="876.20" stroke="#f1f1f1" stroke-width="0.9" />
<line x1="318.09" y1="761.50" x2="318.09" y2="876.20" stroke="#f1f1f1" stroke-width="0.9" />
<line x1="327.28" y1="761.50" x2="327.28" y2="876.20" stroke="#f1f1f1" stroke-width="0.9" />
<line x1="336.47" y1="761.50" x2="336.47" y2="876.20" stroke="#f1f1f1" stroke-width="0.9" />
<line x1="345.66" y1="761.50" x2="345.66" y2="876.20" stroke="#f1f1f1" stroke-width="0.9" />
<line x1="354.85" y1="761.50" x2="354.85" y2="876.20" stroke="#f1f1f1" stroke-width="0.9" />
<line x1="364.04" y1="761.50" x2="364.04" y2="876.20" stroke="#f1f1f1" stroke-width="0.9" />
<line x1="373.23" y1="761.50" x2="373.23" y2="876.20" stroke="#f1f1f1" stroke-width="0.9" />
<line x1="382.43" y1="761.50" x2="382.43" y2="876.20" stroke="#f1f1f1" stroke-width="0.9" />
<line x1="391.62" y1="761.50" x2="391.62" y2="876.20" stroke="#f1f1f1" stroke-width="0.9" />
<line x1="400.81" y1="761.50" x2="400.81" y2="876.20" stroke="#f1f1f1" stroke-width="0.9" />
<line x1="410.00" y1="761.50" x2="410.00" y2="876.20" stroke="#f1f1f1" stroke-width="0.9" />
<line x1="419.19" y1="761.50" x2="419.19" y2="876.20" stroke="#f1f1f1" stroke-width="0.9" />
<line x1="428.38" y1="761.50" x2="428.38" y2="876.20" stroke="#f1f1f1" stroke-width="0.9" />
<line x1="437.57" y1="761.50" x2="437.57" y2="876.20" stroke="#f1f1f1" stroke-width="0.9" />
<line x1="446.76" y1="761.50" x2="446.76" y2="876.20" stroke="#f1f1f1" stroke-width="0.9" />
<line x1="455.96" y1="761.50" x2="455.96" y2="876.20" stroke="#f1f1f1" stroke-width="0.9" />
<line x1="465.15" y1="761.50" x2="465.15" y2="876.20" stroke="#f1f1f1" stroke-width="0.9" />
<line x1="474.34" y1="761.50" x2="474.34" y2="876.20" stroke="#f1f1f1" stroke-width="0.9" />
<line x1="483.53" y1="761.50" x2="483.53" y2="876.20" stroke="#f1f1f1" stroke-width="0.9" />
<line x1="492.72" y1="761.50" x2="492.72" y2="876.20" stroke="#f1f1f1" stroke-width="0.9" />
<line x1="501.91" y1="761.50" x2="501.91" y2="876.20" stroke="#f1f1f1" stroke-width="0.9" />
<line x1="511.10" y1="761.50" x2="511.10" y2="876.20" stroke="#f1f1f1" stroke-width="0.9" />
<line x1="520.29" y1="761.50" x2="520.29" y2="876.20" stroke="#f1f1f1" stroke-width="0.9" />
<line x1="529.49" y1="761.50" x2="529.49" y2="876.20" stroke="#f1f1f1" stroke-width="0.9" />
<line x1="73.60" y1="858.52" x2="535.00" y2="858.52" stroke="#f3f3f3" stroke-width="0.8" />
<line x1="73.60" y1="832.36" x2="535.00" y2="832.36" stroke="#f3f3f3" stroke-width="0.8" />
<line x1="73.60" y1="806.19" x2="535.00" y2="806.19" stroke="#f3f3f3" stroke-width="0.8" />
<line x1="73.60" y1="780.03" x2="535.00" y2="780.03" stroke="#f3f3f3" stroke-width="0.8" />
<line x1="73.60" y1="871.60" x2="535.00" y2="871.60" stroke="#ededed" stroke-width="1.0" />
<line x1="73.60" y1="845.44" x2="535.00" y2="845.44" stroke="#ededed" stroke-width="1.0" />
<line x1="73.60" y1="819.27" x2="535.00" y2="819.27" stroke="#ededed" stroke-width="1.0" />
<line x1="73.60" y1="793.11" x2="535.00" y2="793.11" stroke="#ededed" stroke-width="1.0" />
<line x1="73.60" y1="766.95" x2="535.00" y2="766.95" stroke="#ededed" stroke-width="1.0" />
<rect x="74.98" y="766.95" width="8.27" height="104.65" fill="#0f9676" />
<rect x="84.17" y="796.15" width="8.27" height="75.45" fill="#119676" />
<rect x="93.36" y="766.95" width="8.27" height="104.65" fill="#139677" />
<rect x="102.55" y="766.95" width="8.27" height="104.65" fill="#159677" />
<rect x="111.74" y="766.95" width="8.27" height="104.65" fill="#43a487" />
<rect x="120.93" y="772.81" width="8.27" height="98.79" fill="#47a589" />
<rect x="130.13" y="811.53" width="8.27" height="60.07" fill="#48a68a" />
<rect x="139.32" y="802.01" width="8.27" height="69.59" fill="#49a68a" />
<rect x="148.51" y="770.19" width="8.27" height="101.41" fill="#4aa78b" />
<rect x="157.70" y="784.22" width="8.27" height="87.38" fill="#4ba78b" />
<rect x="166.89" y="807.14" width="8.27" height="64.46" fill="#4ca78c" />
<rect x="176.08" y="772.29" width="8.27" height="99.31" fill="#4da88d" />
<rect x="185.27" y="792.90" width="8.27" height="78.70" fill="#4ea88d" />
<rect x="194.46" y="791.02" width="8.27" height="80.58" fill="#4fa98e" />
<rect x="203.66" y="809.02" width="8.27" height="62.58" fill="#50a98e" />
<rect x="212.85" y="766.95" width="8.27" height="104.65" fill="#51a98f" />
<rect x="222.04" y="805.25" width="8.27" height="66.35" fill="#52aa8f" />
<rect x="231.23" y="832.15" width="8.27" height="39.45" fill="#53aa90" />
<rect x="240.42" y="784.22" width="8.27" height="87.38" fill="#54ab90" />
<rect x="249.61" y="810.38" width="8.27" height="61.22" fill="#55ab91" />
<rect x="258.80" y="775.64" width="8.27" height="95.96" fill="#56ac91" />
<rect x="267.99" y="796.88" width="8.27" height="74.72" fill="#58ac92" />
<rect x="277.19" y="798.76" width="8.27" height="72.84" fill="#59ad93" />
<rect x="286.38" y="805.98" width="8.27" height="65.62" fill="#5aad94" />
<rect x="295.57" y="785.68" width="8.27" height="85.92" fill="#5bae94" />
<rect x="304.76" y="777.21" width="8.27" height="94.39" fill="#5dae95" />
<rect x="313.95" y="782.86" width="8.27" height="88.74" fill="#5eaf96" />
<rect x="323.14" y="784.22" width="8.27" height="87.38" fill="#60b097" />
<rect x="332.33" y="827.02" width="8.27" height="44.58" fill="#62b198" />
<rect x="341.52" y="784.22" width="8.27" height="87.38" fill="#64b299" />
<rect x="350.72" y="781.71" width="8.27" height="89.89" fill="#66b39a" />
<rect x="359.91" y="815.82" width="8.27" height="55.78" fill="#69b49c" />
<rect x="369.10" y="799.18" width="8.27" height="72.42" fill="#6bb59d" />
<rect x="378.29" y="805.98" width="8.27" height="65.62" fill="#6db69f" />
<rect x="387.48" y="796.57" width="8.27" height="75.03" fill="#70b7a0" />
<rect x="396.67" y="777.00" width="8.27" height="94.60" fill="#72b8a2" />
<rect x="405.86" y="784.01" width="8.27" height="87.59" fill="#75baa4" />
<rect x="415.05" y="823.77" width="8.27" height="47.83" fill="#79bba6" />
<rect x="424.25" y="777.62" width="8.27" height="93.98" fill="#7cbda8" />
<rect x="433.44" y="839.16" width="8.27" height="32.44" fill="#7fbeaa" />
<rect x="442.63" y="818.75" width="8.27" height="52.85" fill="#81c0ac" />
<rect x="451.82" y="836.54" width="8.27" height="35.06" fill="#84c1ad" />
<rect x="461.01" y="803.26" width="8.27" height="68.34" fill="#87c3af" />
<rect x="470.20" y="796.57" width="8.27" height="75.03" fill="#8ac4b1" />
<rect x="479.39" y="851.72" width="8.27" height="19.88" fill="#8dc5b3" />
<rect x="488.58" y="784.01" width="8.27" height="87.59" fill="#93c9b7" />
<rect x="497.78" y="815.61" width="8.27" height="55.99" fill="#9bcdbd" />
<rect x="506.97" y="810.28" width="8.27" height="61.32" fill="#a0cfc0" />
<rect x="516.16" y="841.57" width="8.27" height="30.03" fill="#add6c9" />
<rect x="525.35" y="834.55" width="8.27" height="37.05" fill="#c7e3da" />
<rect x="73.60" y="761.50" width="461.40" height="114.70" fill="none" stroke="#aaa" stroke-width="1.0" />
<line x1="70.90" y1="871.60" x2="73.60" y2="871.60" stroke="#333" stroke-width="1.0" />
<text x="64.29" y="875.40" style="font-size:9.55px;" fill="#222" >0</text>
<line x1="70.90" y1="845.44" x2="73.60" y2="845.44" stroke="#333" stroke-width="1.0" />
<text x="58.98" y="849.24" style="font-size:9.55px;" fill="#222" >25</text>
<line x1="70.90" y1="819.27" x2="73.60" y2="819.27" stroke="#333" stroke-width="1.0" />
<text x="58.98" y="823.07" style="font-size:9.55px;" fill="#222" >50</text>
<line x1="70.90" y1="793.11" x2="73.60" y2="793.11" stroke="#333" stroke-width="1.0" />
<text x="58.98" y="796.91" style="font-size:9.55px;" fill="#222" >75</text>
<line x1="70.90" y1="766.95" x2="73.60" y2="766.95" stroke="#333" stroke-width="1.0" />
<text x="53.67" y="770.75" style="font-size:9.55px;" fill="#222" >100</text>
<line x1="79.11" y1="876.20" x2="79.11" y2="878.90" stroke="#333" stroke-width="1.0" />
<text transform="translate(82.51,882.30) rotate(-90)" x="-24.80" y="0" style="font-size:9.5px;font-style:italic;" fill="#222">CCT8</text>
<line x1="88.31" y1="876.20" x2="88.31" y2="878.90" stroke="#333" stroke-width="1.0" />
<text transform="translate(91.71,882.30) rotate(-90)" x="-30.63" y="0" style="font-size:9.5px;font-style:italic;" fill="#222">NUP93</text>
<line x1="97.50" y1="876.20" x2="97.50" y2="878.90" stroke="#333" stroke-width="1.0" />
<text transform="translate(100.90,882.30) rotate(-90)" x="-26.40" y="0" style="font-size:9.5px;font-style:italic;" fill="#222">EIF3B</text>
<line x1="106.69" y1="876.20" x2="106.69" y2="878.90" stroke="#333" stroke-width="1.0" />
<text transform="translate(110.09,882.30) rotate(-90)" x="-32.73" y="0" style="font-size:9.5px;font-style:italic;" fill="#222">PSMD1</text>
<line x1="115.88" y1="876.20" x2="115.88" y2="878.90" stroke="#333" stroke-width="1.0" />
<text transform="translate(119.28,882.30) rotate(-90)" x="-40.13" y="0" style="font-size:9.5px;font-style:italic;" fill="#222">DYNC1I2</text>
<line x1="125.07" y1="876.20" x2="125.07" y2="878.90" stroke="#333" stroke-width="1.0" />
<text transform="translate(128.47,882.30) rotate(-90)" x="-29.04" y="0" style="font-size:9.5px;font-style:italic;" fill="#222">SF3B1</text>
<line x1="134.26" y1="876.20" x2="134.26" y2="878.90" stroke="#333" stroke-width="1.0" />
<text transform="translate(137.66,882.30) rotate(-90)" x="-30.10" y="0" style="font-size:9.5px;font-style:italic;" fill="#222">USP39</text>
<line x1="143.45" y1="876.20" x2="143.45" y2="878.90" stroke="#333" stroke-width="1.0" />
<text transform="translate(146.85,882.30) rotate(-90)" x="-30.63" y="0" style="font-size:9.5px;font-style:italic;" fill="#222">DDX18</text>
<line x1="152.64" y1="876.20" x2="152.64" y2="878.90" stroke="#333" stroke-width="1.0" />
<text transform="translate(156.04,882.30) rotate(-90)" x="-49.11" y="0" style="font-size:9.5px;font-style:italic;" fill="#222">SNRNP200</text>
<line x1="161.84" y1="876.20" x2="161.84" y2="878.90" stroke="#333" stroke-width="1.0" />
<text transform="translate(165.24,882.30) rotate(-90)" x="-31.68" y="0" style="font-size:9.5px;font-style:italic;" fill="#222">EIF4A3</text>
<line x1="171.03" y1="876.20" x2="171.03" y2="878.90" stroke="#333" stroke-width="1.0" />
<text transform="translate(174.43,882.30) rotate(-90)" x="-29.04" y="0" style="font-size:9.5px;font-style:italic;" fill="#222">SF3A1</text>
<line x1="180.22" y1="876.20" x2="180.22" y2="878.90" stroke="#333" stroke-width="1.0" />
<text transform="translate(183.62,882.30) rotate(-90)" x="-36.95" y="0" style="font-size:9.5px;font-style:italic;" fill="#222">EFTUD2</text>
<line x1="189.41" y1="876.20" x2="189.41" y2="878.90" stroke="#333" stroke-width="1.0" />
<text transform="translate(192.81,882.30) rotate(-90)" x="-26.92" y="0" style="font-size:9.5px;font-style:italic;" fill="#222">EIF3D</text>
<line x1="198.60" y1="876.20" x2="198.60" y2="878.90" stroke="#333" stroke-width="1.0" />
<text transform="translate(202.00,882.30) rotate(-90)" x="-26.40" y="0" style="font-size:9.5px;font-style:italic;" fill="#222">EIF3A</text>
<line x1="207.79" y1="876.20" x2="207.79" y2="878.90" stroke="#333" stroke-width="1.0" />
<text transform="translate(211.19,882.30) rotate(-90)" x="-33.26" y="0" style="font-size:9.5px;font-style:italic;" fill="#222">WDR12</text>
<line x1="216.98" y1="876.20" x2="216.98" y2="878.90" stroke="#333" stroke-width="1.0" />
<text transform="translate(220.38,882.30) rotate(-90)" x="-40.70" y="0" style="font-size:9.5px;font-style:italic;" fill="#222">HNRNPU</text>
<line x1="226.17" y1="876.20" x2="226.17" y2="878.90" stroke="#333" stroke-width="1.0" />
<text transform="translate(229.57,882.30) rotate(-90)" x="-29.04" y="0" style="font-size:9.5px;font-style:italic;" fill="#222">SF3B3</text>
<line x1="235.37" y1="876.20" x2="235.37" y2="878.90" stroke="#333" stroke-width="1.0" />
<text transform="translate(238.77,882.30) rotate(-90)" x="-32.73" y="0" style="font-size:9.5px;font-style:italic;" fill="#222">PSMC2</text>
<line x1="244.56" y1="876.20" x2="244.56" y2="878.90" stroke="#333" stroke-width="1.0" />
<text transform="translate(247.96,882.30) rotate(-90)" x="-31.97" y="0" style="font-size:9.5px;font-style:italic;" fill="#222">RBM17</text>
<line x1="253.75" y1="876.20" x2="253.75" y2="878.90" stroke="#333" stroke-width="1.0" />
<text transform="translate(257.15,882.30) rotate(-90)" x="-26.40" y="0" style="font-size:9.5px;font-style:italic;" fill="#222">EIF5B</text>
<line x1="262.94" y1="876.20" x2="262.94" y2="878.90" stroke="#333" stroke-width="1.0" />
<text transform="translate(266.34,882.30) rotate(-90)" x="-26.22" y="0" style="font-size:9.5px;font-style:italic;" fill="#222">COPA</text>
<line x1="272.13" y1="876.20" x2="272.13" y2="878.90" stroke="#333" stroke-width="1.0" />
<text transform="translate(275.53,882.30) rotate(-90)" x="-25.87" y="0" style="font-size:9.5px;font-style:italic;" fill="#222">SFPQ</text>
<line x1="281.32" y1="876.20" x2="281.32" y2="878.90" stroke="#333" stroke-width="1.0" />
<text transform="translate(284.72,882.30) rotate(-90)" x="-37.50" y="0" style="font-size:9.5px;font-style:italic;" fill="#222">SUPT6H</text>
<line x1="290.51" y1="876.20" x2="290.51" y2="878.90" stroke="#333" stroke-width="1.0" />
<text transform="translate(293.91,882.30) rotate(-90)" x="-36.96" y="0" style="font-size:9.5px;font-style:italic;" fill="#222">RUVBL2</text>
<line x1="299.70" y1="876.20" x2="299.70" y2="878.90" stroke="#333" stroke-width="1.0" />
<text transform="translate(303.10,882.30) rotate(-90)" x="-25.35" y="0" style="font-size:9.5px;font-style:italic;" fill="#222">DDB1</text>
<line x1="308.90" y1="876.20" x2="308.90" y2="878.90" stroke="#333" stroke-width="1.0" />
<text transform="translate(312.30,882.30) rotate(-90)" x="-24.11" y="0" style="font-size:9.5px;font-style:italic;" fill="#222">RPA1</text>
<line x1="318.09" y1="876.20" x2="318.09" y2="878.90" stroke="#333" stroke-width="1.0" />
<text transform="translate(321.49,882.30) rotate(-90)" x="-26.92" y="0" style="font-size:9.5px;font-style:italic;" fill="#222">RRM1</text>
<line x1="327.28" y1="876.20" x2="327.28" y2="878.90" stroke="#333" stroke-width="1.0" />
<text transform="translate(330.68,882.30) rotate(-90)" x="-32.73" y="0" style="font-size:9.5px;font-style:italic;" fill="#222">PSMC1</text>
<line x1="336.47" y1="876.20" x2="336.47" y2="878.90" stroke="#333" stroke-width="1.0" />
<text transform="translate(339.87,882.30) rotate(-90)" x="-41.70" y="0" style="font-size:9.5px;font-style:italic;" fill="#222">HNRNPM</text>
<line x1="345.66" y1="876.20" x2="345.66" y2="878.90" stroke="#333" stroke-width="1.0" />
<text transform="translate(349.06,882.30) rotate(-90)" x="-35.90" y="0" style="font-size:9.5px;font-style:italic;" fill="#222">PRPF19</text>
<line x1="354.85" y1="876.20" x2="354.85" y2="878.90" stroke="#333" stroke-width="1.0" />
<text transform="translate(358.25,882.30) rotate(-90)" x="-23.76" y="0" style="font-size:9.5px;font-style:italic;" fill="#222">RPL3</text>
<line x1="364.04" y1="876.20" x2="364.04" y2="878.90" stroke="#333" stroke-width="1.0" />
<text transform="translate(367.44,882.30) rotate(-90)" x="-24.81" y="0" style="font-size:9.5px;font-style:italic;" fill="#222">UBA1</text>
<line x1="373.23" y1="876.20" x2="373.23" y2="878.90" stroke="#333" stroke-width="1.0" />
<text transform="translate(376.63,882.30) rotate(-90)" x="-31.15" y="0" style="font-size:9.5px;font-style:italic;" fill="#222">KPNB1</text>
<line x1="382.43" y1="876.20" x2="382.43" y2="878.90" stroke="#333" stroke-width="1.0" />
<text transform="translate(385.83,882.30) rotate(-90)" x="-35.90" y="0" style="font-size:9.5px;font-style:italic;" fill="#222">PRPF31</text>
<line x1="391.62" y1="876.20" x2="391.62" y2="878.90" stroke="#333" stroke-width="1.0" />
<text transform="translate(395.02,882.30) rotate(-90)" x="-30.63" y="0" style="font-size:9.5px;font-style:italic;" fill="#222">DDX51</text>
<line x1="400.81" y1="876.20" x2="400.81" y2="878.90" stroke="#333" stroke-width="1.0" />
<text transform="translate(404.21,882.30) rotate(-90)" x="-44.35" y="0" style="font-size:9.5px;font-style:italic;" fill="#222">DYNC1H1</text>
<line x1="410.00" y1="876.20" x2="410.00" y2="878.90" stroke="#333" stroke-width="1.0" />
<text transform="translate(413.40,882.30) rotate(-90)" x="-19.53" y="0" style="font-size:9.5px;font-style:italic;" fill="#222">VCP</text>
<line x1="419.19" y1="876.20" x2="419.19" y2="878.90" stroke="#333" stroke-width="1.0" />
<text transform="translate(422.59,882.30) rotate(-90)" x="-26.92" y="0" style="font-size:9.5px;font-style:italic;" fill="#222">INTS9</text>
<line x1="428.38" y1="876.20" x2="428.38" y2="878.90" stroke="#333" stroke-width="1.0" />
<text transform="translate(431.78,882.30) rotate(-90)" x="-30.62" y="0" style="font-size:9.5px;font-style:italic;" fill="#222">PRPF8</text>
<line x1="437.57" y1="876.20" x2="437.57" y2="878.90" stroke="#333" stroke-width="1.0" />
<text transform="translate(440.97,882.30) rotate(-90)" x="-24.29" y="0" style="font-size:9.5px;font-style:italic;" fill="#222">XAB2</text>
<line x1="446.76" y1="876.20" x2="446.76" y2="878.90" stroke="#333" stroke-width="1.0" />
<text transform="translate(450.16,882.30) rotate(-90)" x="-41.72" y="0" style="font-size:9.5px;font-style:italic;" fill="#222">SUPV3L1</text>
<line x1="455.96" y1="876.20" x2="455.96" y2="878.90" stroke="#333" stroke-width="1.0" />
<text transform="translate(459.36,882.30) rotate(-90)" x="-32.73" y="0" style="font-size:9.5px;font-style:italic;" fill="#222">PSMC4</text>
<line x1="465.15" y1="876.20" x2="465.15" y2="878.90" stroke="#333" stroke-width="1.0" />
<text transform="translate(468.55,882.30) rotate(-90)" x="-36.77" y="0" style="font-size:9.5px;font-style:italic;" fill="#222">HEATR1</text>
<line x1="474.34" y1="876.20" x2="474.34" y2="878.90" stroke="#333" stroke-width="1.0" />
<text transform="translate(477.74,882.30) rotate(-90)" x="-24.81" y="0" style="font-size:9.5px;font-style:italic;" fill="#222">GNL3</text>
<line x1="483.53" y1="876.20" x2="483.53" y2="878.90" stroke="#333" stroke-width="1.0" />
<text transform="translate(486.93,882.30) rotate(-90)" x="-27.98" y="0" style="font-size:9.5px;font-style:italic;" fill="#222">FTSJ3</text>
<line x1="492.72" y1="876.20" x2="492.72" y2="878.90" stroke="#333" stroke-width="1.0" />
<text transform="translate(496.12,882.30) rotate(-90)" x="-30.63" y="0" style="font-size:9.5px;font-style:italic;" fill="#222">NUP54</text>
<line x1="501.91" y1="876.20" x2="501.91" y2="878.90" stroke="#333" stroke-width="1.0" />
<text transform="translate(505.31,882.30) rotate(-90)" x="-26.92" y="0" style="font-size:9.5px;font-style:italic;" fill="#222">QARS</text>
<line x1="511.10" y1="876.20" x2="511.10" y2="878.90" stroke="#333" stroke-width="1.0" />
<text transform="translate(514.50,882.30) rotate(-90)" x="-31.68" y="0" style="font-size:9.5px;font-style:italic;" fill="#222">SDAD1</text>
<line x1="520.29" y1="876.20" x2="520.29" y2="878.90" stroke="#333" stroke-width="1.0" />
<text transform="translate(523.69,882.30) rotate(-90)" x="-30.63" y="0" style="font-size:9.5px;font-style:italic;" fill="#222">DDX49</text>
<line x1="529.49" y1="876.20" x2="529.49" y2="878.90" stroke="#333" stroke-width="1.0" />
<text transform="translate(532.89,882.30) rotate(-90)" x="-43.82" y="0" style="font-size:9.5px;font-style:italic;" fill="#222">EXOSC10</text>
<text x="95.85" y="944.00" style="font-size:12.15px;" fill="#1a1a1a" >Gold Standard Ordered by RNAi Gene Essentiality (Most --&gt; Least Essential)</text>
<text transform="translate(43.70,829.50) rotate(-90)" x="-76.62" y="0" style="font-size:11.9px;" fill="#1a1a1a">% Targetable EEJs per Gene</text>
<text x="546.55" y="772.30" style="font-size:12.0px;" fill="#1a1a1a" >RNAi LFC Gene</text>
<text x="559.55" y="786.50" style="font-size:12.0px;" fill="#1a1a1a" >Essentiality</text>
<defs><linearGradient id="cb" x1="0" y1="0" x2="0" y2="1"><stop offset="0.0" stop-color="#009474"/><stop offset="0.1" stop-color="#2d9c7e"/><stop offset="0.2" stop-color="#45a488"/><stop offset="0.3" stop-color="#59ad93"/><stop offset="0.4" stop-color="#6bb59d"/><stop offset="0.5" stop-color="#7cbda8"/><stop offset="0.6" stop-color="#8dc5b3"/><stop offset="0.7" stop-color="#9dcdbe"/><stop offset="0.8" stop-color="#add6c9"/><stop offset="0.9" stop-color="#bdded4"/><stop offset="1.0" stop-color="#cde6df"/></linearGradient></defs>
<rect x="580.00" y="794.30" width="21.20" height="105.00" fill="url(#cb)" />
<line x1="580.00" y1="797.50" x2="584.20" y2="797.50" stroke="#ffffff" stroke-width="0.9" />
<line x1="597.00" y1="797.50" x2="601.20" y2="797.50" stroke="#ffffff" stroke-width="0.9" />
<text x="603.50" y="801.30" style="font-size:9.55px;" fill="#222" >-1.5</text>
<line x1="580.00" y1="823.00" x2="584.20" y2="823.00" stroke="#ffffff" stroke-width="0.9" />
<line x1="597.00" y1="823.00" x2="601.20" y2="823.00" stroke="#ffffff" stroke-width="0.9" />
<text x="603.50" y="826.80" style="font-size:9.55px;" fill="#222" >-1.2</text>
<line x1="580.00" y1="848.50" x2="584.20" y2="848.50" stroke="#ffffff" stroke-width="0.9" />
<line x1="597.00" y1="848.50" x2="601.20" y2="848.50" stroke="#ffffff" stroke-width="0.9" />
<text x="603.50" y="852.30" style="font-size:9.55px;" fill="#222" >-0.9</text>
<line x1="580.00" y1="874.00" x2="584.20" y2="874.00" stroke="#ffffff" stroke-width="0.9" />
<line x1="597.00" y1="874.00" x2="601.20" y2="874.00" stroke="#ffffff" stroke-width="0.9" />
<text x="603.50" y="877.80" style="font-size:9.55px;" fill="#222" >-0.6</text>
</svg></body></html>
